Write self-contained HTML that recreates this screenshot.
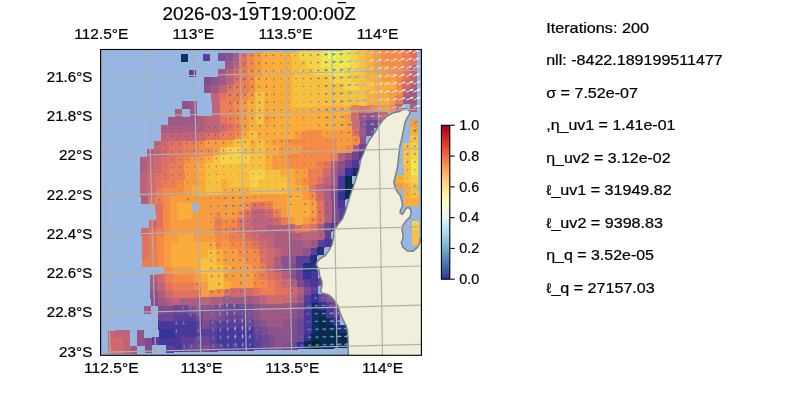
<!DOCTYPE html>
<html lang="en"><head><meta charset="utf-8"><title>plot</title>
<style>html,body{margin:0;padding:0;background:#fff}svg{display:block}text{font-family:"Liberation Sans",sans-serif;fill:#000;stroke:#000;stroke-width:.22px}</style></head><body>
<svg width="800" height="400" viewBox="0 0 800 400">
<defs><clipPath id="ax"><rect x="100.60" y="49.50" width="320.80" height="305.80"/></clipPath>
<linearGradient id="cb" x1="0" y1="0" x2="0" y2="1"><stop offset="0.0000" stop-color="#a50026"/><stop offset="0.0312" stop-color="#b30d26"/><stop offset="0.0625" stop-color="#c21c27"/><stop offset="0.0938" stop-color="#d22b27"/><stop offset="0.1250" stop-color="#dd3d2d"/><stop offset="0.1562" stop-color="#e65036"/><stop offset="0.1875" stop-color="#ef633f"/><stop offset="0.2188" stop-color="#f57748"/><stop offset="0.2500" stop-color="#f88c51"/><stop offset="0.2812" stop-color="#fba05b"/><stop offset="0.3125" stop-color="#fdb366"/><stop offset="0.3438" stop-color="#fdc374"/><stop offset="0.3750" stop-color="#fed283"/><stop offset="0.4062" stop-color="#fee192"/><stop offset="0.4375" stop-color="#feeba1"/><stop offset="0.4688" stop-color="#fff5af"/><stop offset="0.5000" stop-color="#fffebe"/><stop offset="0.5312" stop-color="#f6fbd0"/><stop offset="0.5625" stop-color="#ecf8e2"/><stop offset="0.5938" stop-color="#e2f4f4"/><stop offset="0.6250" stop-color="#d4edf4"/><stop offset="0.6562" stop-color="#c3e5f0"/><stop offset="0.6875" stop-color="#b2ddeb"/><stop offset="0.7188" stop-color="#a1d1e5"/><stop offset="0.7500" stop-color="#90c3dd"/><stop offset="0.7812" stop-color="#7fb6d6"/><stop offset="0.8125" stop-color="#6ea6ce"/><stop offset="0.8438" stop-color="#6095c4"/><stop offset="0.8750" stop-color="#5183bb"/><stop offset="0.9062" stop-color="#4471b2"/><stop offset="0.9375" stop-color="#3e5ea8"/><stop offset="0.9688" stop-color="#374a9f"/><stop offset="1.0000" stop-color="#313695"/></linearGradient></defs>
<rect width="800" height="400" fill="#fff"/>
<g clip-path="url(#ax)">
<rect x="100" y="49" width="322" height="307" fill="#97b6e1"/>
<g shape-rendering="crispEdges"><path fill="#0d3064" d="M181 54H188.4V61.8H181ZM352.2 167.7H359.6V175.6H352.2ZM310.8 302H318.7V310.5H310.8ZM310.9 309.8H318.9V318.3H310.9ZM318.2 309.6H326.2V318.1H318.2ZM311.1 317.6H319V326.2H311.1ZM325.6 317.3H333.6V325.8H325.6ZM311.2 325.5H319.2V334H311.2ZM333 324.9H341V333.4H333Z"/>
<path fill="#5d3e99" d="M203.1 53.5H210.4V61.3H203.1ZM188.7 69.5H196.1V77.4H188.7ZM338.3 207.2H345.6V215.8H338.3ZM338.4 215.1H345.7V222.9H338.4ZM324.1 231.1H331.4V239.6H324.1ZM316.9 239.1H324.9V247.6H316.9ZM309.8 247.1H317.8V255.6H309.8ZM295.3 255.3H303.3V263.8H295.3ZM302.6 255.1H310.6V263.7H302.6ZM295.5 263.1H303.5V271.7H295.5ZM303 278.6H311V287.2H303ZM310.5 286.3H317.8V294.8H310.5ZM303.3 294.3H311.3V302.8H303.3ZM325.3 301.6H333.3V310.1H325.3ZM172.8 313.2H180.7V321.8H172.8ZM180 313H188V321.6H180ZM187.3 312.9H195.3V321.4H187.3ZM194.8 320.5H202.7V329.1H194.8ZM216.6 320H224.5V328.5H216.6ZM223.8 319.8H231.8V328.3H223.8ZM231.1 319.6H239.1V328.2H231.1ZM238.4 319.4H246.3V328H238.4ZM195 328.4H202.9V336.9H195ZM202.2 328.2H210.2V336.7H202.2ZM209.5 328H217.5V336.5H209.5ZM151.6 337.3H159.5V345.1H151.6ZM180.6 336.6H188.6V345.1H180.6ZM187.9 336.4H195.8V344.9H187.9ZM209.7 335.8H217.6V344.4H209.7ZM253.2 334.7H261.2V343.3H253.2ZM166.3 344.8H174.3V352.6H166.3ZM180.8 344.4H188.8V352.3H180.8ZM217.1 343.5H225.1V351.3H217.1ZM231.6 343.1H239.6V351H231.6ZM253.4 342.6H261.4V350.4H253.4Z"/>
<path fill="#7e4d8f" d="M217.8 53.2H225.9V61H217.8ZM203.6 77H211.7V85.6H203.6ZM337.6 168.1H345.6V176.6H337.6ZM330.7 191.7H338.7V200.3H330.7ZM330.8 199.6H338.8V208.1H330.8ZM331 207.4H339V215.9H331ZM331.1 215.2H339.1V223.8H331.1ZM288.2 263.3H296.2V271.8H288.2ZM295.8 278.8H303.7V287.3H295.8ZM303.2 286.5H311.2V295H303.2ZM150.6 298.1H158.5V305.9H150.6ZM158 305.7H166V314.3H158ZM165.3 305.6H173.3V314.1H165.3ZM187.1 305H195.1V313.6H187.1ZM208.9 304.5H216.9V313H208.9ZM216.2 304.3H224.2V312.8H216.2ZM245.3 303.6H253.3V312.1H245.3ZM296.2 302.3H304.2V310.8H296.2ZM332.6 301.4H339.9V309.9H332.6ZM216.4 312.1H224.4V320.7H216.4ZM245.5 311.4H253.4V320H245.5ZM296.4 310.1H304.3V318.7H296.4ZM202 320.3H210V328.9H202ZM252.9 319.1H260.9V327.6H252.9ZM289.2 318.2H297.2V326.7H289.2ZM260.3 326.7H268.3V335.3H260.3ZM289.4 326H297.4V334.5H289.4ZM144.3 337.5H152.3V346H144.3ZM267.8 334.4H275.7V342.9H267.8ZM289.6 333.8H297.5V342.4H289.6ZM144.5 345.3H151.8V353.2H144.5ZM202.6 343.9H210.6V351.7H202.6ZM267.9 342.2H275.9V350.1H267.9ZM282.4 341.9H290.4V349.7H282.4Z"/>
<path fill="#8e538b" d="M225.2 53H233.2V61.6H225.2ZM211 76.9H219V85.4H211ZM203.8 84.9H211.9V92.7H203.8ZM182.1 101.1H190.2V108.9H182.1ZM366 112.6H374.1V121.1H366ZM358.8 120.6H366.9V129.1H358.8ZM359.1 136.2H366.4V144.8H359.1ZM344.7 152.2H352.7V160.8H344.7ZM337.5 160.2H345.5V168.8H337.5ZM330.6 183.9H338.6V192.4H330.6ZM302.5 247.3H310.5V255.8H302.5ZM280.7 255.7H288.7V264.2H280.7ZM288 255.5H296V264H288ZM280.9 263.5H288.9V272H280.9ZM288.3 271.1H296.3V279.7H288.3ZM150.4 290.2H158.3V298.8H150.4ZM325.2 293.8H332.5V302.3H325.2ZM194.4 304.8H202.4V313.4H194.4ZM201.7 304.7H209.6V313.2H201.7ZM252.6 303.4H260.5V311.9H252.6ZM288.9 302.5H296.9V311H288.9ZM201.9 312.5H209.8V321H201.9ZM209.1 312.3H217.1V320.9H209.1ZM252.7 311.2H260.7V319.8H252.7ZM289.1 310.3H297.1V318.9H289.1ZM260.2 318.9H268.1V327.4H260.2ZM282 318.3H289.9V326.9H282ZM136.9 329.8H144.1V338.4H136.9ZM267.6 326.5H275.6V335.1H267.6ZM274.9 326.4H282.8V334.9H274.9ZM282.1 326.2H290.1V334.7H282.1ZM137.1 337.7H145V345.5H137.1ZM275 334.2H283V342.7H275ZM282.3 334H290.3V342.6H282.3ZM275.2 342H283.1V349.9H275.2Z"/>
<path fill="#b05e80" d="M232.5 52.9H240.6V61.4H232.5ZM409.7 80.3H417V88.8H409.7ZM402.4 88.3H410.5V96.8H402.4ZM175 109.1H182.3V117.6H175ZM410 103.7H417.3V111.6H410ZM197.2 116.4H205.2V125H197.2ZM160.7 125.1H168.8V133.6H160.7ZM168.1 124.9H176.1V133.5H168.1ZM175.4 124.8H183.4V133.3H175.4ZM182.7 124.6H190.8V133.1H182.7ZM190.1 124.4H198.1V133H190.1ZM197.4 124.3H205.4V132.8H197.4ZM146.7 149H154.7V157.5H146.7ZM351.9 144.2H359.9V152.8H351.9ZM139.5 157H147.6V165.5H139.5ZM337.3 152.4H345.4V160.9H337.3ZM139.7 164.8H147.8V173.4H139.7ZM330.1 160.4H338.2V168.9H330.1ZM323.2 184.1H331.3V192.6H323.2ZM140.6 196.2H148.6V204.1H140.6ZM323.4 191.9H331.4V200.5H323.4ZM323.5 199.8H331.5V208.3H323.5ZM323.7 207.6H331.7V216.1H323.7ZM323.8 215.4H331.8V224H323.8ZM265.5 224.7H273.5V233.2H265.5ZM272.8 224.5H280.8V233H272.8ZM280.1 224.3H288.1V232.8H280.1ZM316.6 223.4H324.6V232H316.6ZM273 232.3H281V240.9H273ZM280.3 232.1H288.3V240.7H280.3ZM287.6 232H295.6V240.5H287.6ZM294.9 231.8H302.9V240.3H294.9ZM316.8 231.3H324.8V239.8H316.8ZM273.1 240.2H281.1V248.7H273.1ZM280.4 240H288.4V248.5H280.4ZM302.3 239.5H310.3V248H302.3ZM280.6 247.8H288.6V256.4H280.6ZM273.4 255.8H281.4V264.4H273.4ZM273.6 263.7H281.6V272.2H273.6ZM149.9 274.5H157.9V283.1H149.9ZM281 271.3H289V279.9H281ZM288.5 279H296.5V287.5H288.5ZM157.6 290H165.6V298.6H157.6ZM295.9 286.6H303.9V295.2H295.9ZM165.1 297.7H173.1V306.3H165.1ZM179.7 297.3H187.6V305.9H179.7ZM186.9 297.2H194.9V305.7H186.9ZM194.2 297H202.2V305.5H194.2ZM208.8 296.6H216.7V305.2H208.8ZM216 296.5H224V305H216ZM252.4 295.6H260.4V304.1H252.4Z"/>
<path fill="#e17161" d="M239.9 52.7H248V61.2H239.9ZM409.3 49H416.6V57.5H409.3ZM240.1 60.5H248.1V69.1H240.1ZM409.4 56.8H416.7V65.3H409.4ZM232.9 68.5H240.9V77.1H232.9ZM402.1 64.8H410.2V73.3H402.1ZM233 76.4H241.1V84.9H233ZM402.2 72.6H410.3V81.1H402.2ZM225.9 84.4H233.9V92.9H225.9ZM218.7 92.4H226.7V100.9H218.7ZM358.6 104.9H366.6V113.4H358.6ZM219.2 115.9H227.3V124.5H219.2ZM226.7 123.6H234.8V132.1H226.7ZM204.9 131.9H212.9V140.5H204.9ZM212.2 131.8H220.3V140.3H212.2ZM351.6 128.6H359.6V137.1H351.6ZM168.4 140.6H176.5V149.2H168.4ZM175.8 140.5H183.8V149H175.8ZM168.6 148.5H176.7V157H168.6ZM176 148.3H184V156.8H176ZM161.5 156.5H169.5V165H161.5ZM168.8 156.3H176.9V164.9H168.8ZM161.7 164.3H169.7V172.9H161.7ZM322.8 160.6H330.8V169.1H322.8ZM154.6 172.3H162.6V180.9H154.6ZM161.9 172.2H169.9V180.7H161.9ZM154.8 180.2H162.8V188.7H154.8ZM315.8 176.4H323.8V185H315.8ZM308.6 184.4H316.6V193H308.6ZM147.9 196.1H155.9V203.9H147.9ZM155.4 203.7H163.4V212.3H155.4ZM250.4 201.5H258.4V210H250.4ZM257.7 201.3H265.7V209.8H257.7ZM316.2 199.9H324.2V208.5H316.2ZM155.6 211.6H163.6V220.1H155.6ZM243.3 209.5H251.3V218H243.3ZM316.3 207.8H324.4V216.3H316.3ZM155.8 219.4H163.8V228H155.8ZM236.1 217.5H244.1V226H236.1ZM316.5 215.6H324.5V224.1H316.5ZM148.7 227.4H156.7V236H148.7ZM236.3 225.3H244.3V233.9H236.3ZM294.7 224H302.7V232.5H294.7ZM309.3 223.6H317.3V232.1H309.3ZM141.6 235.5H149.6V244H141.6ZM243.8 233H251.8V241.6H243.8ZM141.8 243.3H149.8V251.9H141.8ZM251.2 240.7H259.2V249.2H251.2ZM142 251.2H150V259.7H142ZM258.7 248.3H266.7V256.9H258.7ZM258.9 256.2H266.9V264.7H258.9ZM266.5 271.7H274.5V280.2H266.5ZM164.7 282H172.7V290.6H164.7ZM273.9 279.3H281.9V287.9H273.9ZM172.2 289.7H180.2V298.2H172.2ZM179.5 289.5H187.4V298H179.5ZM186.7 289.3H194.7V297.9H186.7ZM194 289.1H202V297.7H194ZM223.1 288.4H231.1V297H223.1ZM252.2 287.7H260.2V296.3H252.2ZM274.1 287.2H282.1V295.7H274.1ZM281.4 287H289.3V295.5H281.4Z"/>
<path fill="#f68b45" d="M247.3 52.5H255.3V61.1H247.3ZM379.8 49.6H387.9V58.1H379.8ZM387.2 49.4H395.2V58H387.2ZM394.5 49.3H402.6V57.8H394.5ZM247.4 60.4H255.5V68.9H247.4ZM379.9 57.4H388V66H379.9ZM387.3 57.3H395.3V65.8H387.3ZM394.6 57.1H402.7V65.6H394.6ZM247.6 68.2H255.6V76.7H247.6ZM387.4 65.1H395.4V73.6H387.4ZM394.7 64.9H402.8V73.5H394.7ZM247.8 76H255.8V84.6H247.8ZM394.9 72.8H402.9V81.3H394.9ZM247.9 83.9H256V92.4H247.9ZM395 80.6H403V89.1H395ZM240.7 91.9H248.8V100.4H240.7ZM395.1 88.4H403.1V97H395.1ZM233.6 99.9H241.6V108.4H233.6ZM233.7 107.7H241.8V116.3H233.7ZM373.3 104.6H381.3V113.1H373.3ZM388 104.2H396V112.1H388ZM233.9 115.6H241.9V124.1H233.9ZM234.3 131.3H242.3V139.8H234.3ZM300.3 129.8H308.3V138.3H300.3ZM307.6 129.6H315.6V138.1H307.6ZM314.9 129.4H323V137.9H314.9ZM197.8 139.9H205.8V148.5H197.8ZM285.7 137.9H293.8V146.5H285.7ZM293.1 137.8H301.1V146.3H293.1ZM300.4 137.6H308.4V146.1H300.4ZM307.7 137.4H315.8V146H307.7ZM315.1 137.2H323.1V145.8H315.1ZM322.4 137.1H330.4V145.6H322.4ZM329.7 136.9H337.8V145.4H329.7ZM351.7 136.4H359.8V144.9H351.7ZM198 147.8H206V156.3H198ZM205.3 147.6H213.3V156.2H205.3ZM300.6 145.4H308.6V154H300.6ZM307.9 145.3H315.9V153.8H307.9ZM315.2 145.1H323.2V153.6H315.2ZM322.5 144.9H330.6V153.4H322.5ZM329.9 144.7H337.9V153.3H329.9ZM344.5 144.4H352.6V152.9H344.5ZM183.5 156H191.5V164.5H183.5ZM286 153.6H294.1V162.1H286ZM293.4 153.4H301.4V162H293.4ZM300.7 153.3H308.7V161.8H300.7ZM308 153.1H316.1V161.6H308ZM315.4 152.9H323.4V161.5H315.4ZM322.7 152.7H330.7V161.3H322.7ZM286.2 161.4H294.2V170H286.2ZM293.5 161.3H301.5V169.8H293.5ZM300.8 161.1H308.9V169.6H300.8ZM308.2 160.9H316.2V169.5H308.2ZM176.7 179.7H184.8V188.2H176.7ZM301.1 176.8H309.2V185.3H301.1ZM162.3 187.9H170.3V196.4H162.3ZM169.6 187.7H177.6V196.2H169.6ZM176.9 187.5H185V196.1H176.9ZM162.5 195.7H170.5V204.3H162.5ZM308.7 192.3H316.8V200.8H308.7ZM162.7 203.6H170.7V212.1H162.7ZM243.1 201.7H251.1V210.2H243.1ZM162.9 211.4H170.9V219.9H162.9ZM214.1 210.2H222.1V218.7H214.1ZM236 209.7H244V218.2H236ZM163.1 219.2H171.1V227.8H163.1ZM221.5 217.9H229.5V226.4H221.5ZM228.8 217.7H236.8V226.2H228.8ZM309.2 215.8H317.2V224.3H309.2ZM163.3 227.1H171.3V235.6H163.3ZM221.7 225.7H229.7V234.2H221.7ZM156.2 235.1H164.2V243.7H156.2ZM214.6 233.7H222.6V242.3H214.6ZM221.9 233.5H229.9V242.1H221.9ZM156.4 243H164.4V251.5H156.4ZM214.8 241.6H222.8V250.1H214.8ZM229.4 241.2H237.4V249.7H229.4ZM236.7 241H244.7V249.6H236.7ZM156.6 250.8H164.6V259.4H156.6ZM236.8 248.9H244.8V257.4H236.8ZM244.1 248.7H252.1V257.2H244.1ZM251.4 248.5H259.4V257.1H251.4ZM156.8 258.7H164.8V266.5H156.8ZM244.3 256.5H252.3V265.1H244.3ZM251.6 256.4H259.6V264.9H251.6ZM164.3 266.3H172.3V274.9H164.3ZM251.7 264.2H259.7V272.7H251.7ZM171.8 274H179.8V282.5H171.8ZM179.1 273.8H187.1V282.4H179.1ZM186.4 273.6H194.3V282.2H186.4ZM251.9 272H259.9V280.6H251.9ZM193.8 281.3H201.8V289.8H193.8ZM252.1 279.9H260.1V288.4H252.1ZM259.4 279.7H267.3V288.2H259.4ZM208.6 288.8H216.6V297.3H208.6ZM215.9 288.6H223.8V297.2H215.9Z"/>
<path fill="#f89c40" d="M254.6 52.4H262.7V60.9H254.6ZM372.4 49.8H380.5V58.3H372.4ZM254.8 60.2H262.8V68.7H254.8ZM372.6 57.6H380.6V66.1H372.6ZM254.9 68H263V76.6H254.9ZM372.7 65.4H380.7V74H372.7ZM380 65.3H388.1V73.8H380ZM380.1 73.1H388.2V81.6H380.1ZM387.5 72.9H395.6V81.5H387.5ZM248.1 91.7H256.1V100.3H248.1ZM387.7 88.6H395.8V97.1H387.7ZM240.9 99.7H249V108.3H240.9ZM387.8 96.4H395.9V104.9H387.8ZM241.1 107.6H249.1V116.1H241.1ZM380.6 104.4H388.7V112.9H380.6ZM241.2 115.4H249.3V124H241.2ZM263.3 114.9H271.3V123.5H263.3ZM344 113.1H352.1V121.6H344ZM241.4 123.3H249.5V131.8H241.4ZM344.1 120.9H352.2V129.4H344.1ZM410.2 119.4H417.5V127.9H410.2ZM292.9 129.9H301V138.5H292.9ZM322.3 129.2H330.3V137.8H322.3ZM329.6 129.1H337.6V137.6H329.6ZM336.9 128.9H345V137.4H336.9ZM344.3 128.7H352.3V137.3H344.3ZM205.1 139.8H213.1V148.3H205.1ZM212.4 139.6H220.5V148.2H212.4ZM219.8 139.4H227.8V148H219.8ZM271.1 138.3H279.1V146.8H271.1ZM278.4 138.1H286.4V146.6H278.4ZM337.1 136.7H345.1V145.3H337.1ZM344.4 136.6H352.4V145.1H344.4ZM212.6 147.5H220.6V156H212.6ZM278.6 145.9H286.6V154.5H278.6ZM285.9 145.8H293.9V154.3H285.9ZM293.2 145.6H301.3V154.1H293.2ZM337.2 144.6H345.2V153.1H337.2ZM190.8 155.8H198.8V164.3H190.8ZM198.1 155.6H206.2V164.2H198.1ZM271.4 153.9H279.4V162.5H271.4ZM278.7 153.8H286.7V162.3H278.7ZM183.7 163.8H191.7V172.4H183.7ZM191 163.6H199V172.2H191ZM271.6 161.8H279.6V170.3H271.6ZM278.9 161.6H286.9V170.1H278.9ZM183.9 171.7H191.9V180.2H183.9ZM191.2 171.5H199.2V180H191.2ZM293.7 169.1H301.7V177.6H293.7ZM301 168.9H309V177.5H301ZM184.1 179.5H192.1V188H184.1ZM191.4 179.3H199.4V187.9H191.4ZM293.8 176.9H301.8V185.5H293.8ZM184.3 187.3H192.3V195.9H184.3ZM301.3 184.6H309.3V193.1H301.3ZM396.4 182.4H404.4V190.2H396.4ZM169.8 195.5H177.8V204.1H169.8ZM177.1 195.4H185.1V203.9H177.1ZM184.4 195.2H192.5V203.7H184.4ZM191.8 195H199.8V202.9H191.8ZM199.1 194.8H207.1V203.4H199.1ZM206.4 194.7H214.4V203.2H206.4ZM213.7 194.5H221.7V203H213.7ZM221 194.3H229V202.9H221ZM228.3 194.2H236.3V202.7H228.3ZM235.6 194H243.6V202.5H235.6ZM242.9 193.8H250.9V202.4H242.9ZM250.2 193.6H258.3V202.2H250.2ZM257.6 193.5H265.6V202H257.6ZM264.9 193.3H272.9V201.8H264.9ZM272.2 193.1H280.2V201.7H272.2ZM279.5 193H287.5V201.5H279.5ZM301.4 192.4H309.4V201H301.4ZM170 203.4H178V211.9H170ZM199.3 202.7H207.3V211.2H199.3ZM206.6 202.5H214.6V211.1H206.6ZM213.9 202.3H221.9V210.9H213.9ZM221.2 202.2H229.2V210.7H221.2ZM228.5 202H236.5V210.5H228.5ZM235.8 201.8H243.8V210.4H235.8ZM272.3 201H280.4V209.5H272.3ZM279.7 200.8H287.7V209.3H279.7ZM308.9 200.1H316.9V208.6H308.9ZM170.2 211.2H178.2V219.8H170.2ZM192.1 210.7H200.1V219.3H192.1ZM199.4 210.5H207.4V219.1H199.4ZM206.7 210.4H214.8V218.9H206.7ZM221.4 210H229.4V218.6H221.4ZM228.7 209.8H236.7V218.4H228.7ZM279.8 208.6H287.8V217.2H279.8ZM309 207.9H317V216.5H309ZM170.4 219.1H178.4V227.6H170.4ZM177.7 218.9H185.7V227.4H177.7ZM185 218.7H193V227.3H185ZM192.3 218.6H200.3V227.1H192.3ZM199.6 218.4H207.6V226.9H199.6ZM206.9 218.2H214.9V226.7H206.9ZM287.3 216.3H295.3V224.8H287.3ZM301.9 215.9H309.9V224.5H301.9ZM170.6 226.9H178.6V235.5H170.6ZM177.9 226.7H185.9V235.3H177.9ZM185.2 226.6H193.2V235.1H185.2ZM192.5 226.4H200.5V234.9H192.5ZM199.8 226.2H207.8V234.8H199.8ZM207.1 226H215.1V234.6H207.1ZM163.5 234.9H171.5V243.5H163.5ZM170.8 234.8H178.8V243.3H170.8ZM192.7 234.2H200.7V242.8H192.7ZM200 234.1H208V242.6H200ZM207.3 233.9H215.3V242.4H207.3ZM163.7 242.8H171.7V251.3H163.7ZM222.1 241.4H230.1V249.9H222.1ZM163.9 250.6H171.9V259.2H163.9ZM222.2 249.2H230.2V257.8H222.2ZM229.5 249H237.5V257.6H229.5ZM164.1 258.5H172.1V267H164.1ZM222.4 257.1H230.4V265.6H222.4ZM229.7 256.9H237.7V265.4H229.7ZM237 256.7H245V265.3H237ZM171.6 266.1H179.6V274.7H171.6ZM178.9 266H186.9V274.5H178.9ZM186.2 265.8H194.2V274.3H186.2ZM229.9 264.7H237.9V273.3H229.9ZM237.2 264.6H245.2V273.1H237.2ZM244.5 264.4H252.4V272.9H244.5ZM193.6 273.5H201.6V282H193.6ZM222.8 272.7H230.8V281.3H222.8ZM230.1 272.6H238V281.1H230.1ZM237.3 272.4H245.3V280.9H237.3ZM244.6 272.2H252.6V280.8H244.6ZM201.1 281.1H209.1V289.7H201.1ZM230.2 280.4H238.2V289H230.2ZM237.5 280.2H245.5V288.8H237.5ZM244.8 280.1H252.8V288.6H244.8ZM201.3 289H209.3V297.5H201.3Z"/>
<path fill="#fbad3c" d="M262 52.2H270V60.7H262ZM269.3 52H277.4V60.6H269.3ZM276.7 51.9H284.8V60.4H276.7ZM284.1 51.7H292.1V60.3H284.1ZM365.1 49.9H373.1V58.5H365.1ZM262.1 60H270.2V68.6H262.1ZM269.5 59.9H277.6V68.4H269.5ZM276.9 59.7H284.9V68.3H276.9ZM284.2 59.6H292.3V68.1H284.2ZM365.2 57.8H373.3V66.3H365.2ZM262.3 67.9H270.4V76.4H262.3ZM269.7 67.7H277.7V76.3H269.7ZM277 67.6H285.1V76.1H277ZM284.4 67.4H292.4V75.9H284.4ZM365.3 65.6H373.4V74.1H365.3ZM255.1 75.9H263.2V84.4H255.1ZM262.5 75.7H270.5V84.3H262.5ZM269.8 75.6H277.9V84.1H269.8ZM277.2 75.4H285.2V83.9H277.2ZM284.5 75.2H292.6V83.8H284.5ZM365.4 73.4H373.5V82H365.4ZM372.8 73.3H380.8V81.8H372.8ZM255.3 83.7H263.3V92.3H255.3ZM262.6 83.6H270.7V92.1H262.6ZM270 83.4H278V91.9H270ZM277.3 83.2H285.4V91.8H277.3ZM284.7 83.1H292.7V91.6H284.7ZM372.9 81.1H381V89.6H372.9ZM380.3 80.9H388.3V89.5H380.3ZM387.6 80.8H395.7V89.3H387.6ZM262.8 91.4H270.8V99.9H262.8ZM270.1 91.2H278.2V99.8H270.1ZM277.5 91.1H285.5V99.6H277.5ZM284.8 90.9H292.9V99.4H284.8ZM365.7 89.1H373.7V97.6H365.7ZM373 88.9H381.1V97.4H373ZM380.4 88.8H388.4V97.3H380.4ZM248.3 99.6H256.3V108.1H248.3ZM262.9 99.2H271V107.8H262.9ZM270.3 99.1H278.3V107.6H270.3ZM277.6 98.9H285.7V107.4H277.6ZM285 98.7H293V107.3H285ZM365.8 96.9H373.8V105.4H365.8ZM373.1 96.7H381.2V105.3H373.1ZM380.5 96.6H388.5V105.1H380.5ZM248.4 107.4H256.5V115.9H248.4ZM263.1 107.1H271.1V115.6H263.1ZM270.4 106.9H278.5V115.4H270.4ZM277.8 106.7H285.8V115.3H277.8ZM285.1 106.6H293.2V115.1H285.1ZM292.5 106.4H300.5V114.9H292.5ZM299.8 106.2H307.9V114.8H299.8ZM307.2 106.1H315.2V114.6H307.2ZM314.5 105.9H322.6V114.4H314.5ZM321.9 105.7H329.9V114.3H321.9ZM329.2 105.6H337.2V114.1H329.2ZM336.5 105.4H344.6V113.9H336.5ZM343.9 105.2H351.9V113.8H343.9ZM248.6 115.2H256.6V123.8H248.6ZM270.6 114.7H278.6V123.3H270.6ZM277.9 114.6H286V123.1H277.9ZM285.3 114.4H293.3V122.9H285.3ZM292.6 114.2H300.7V122.8H292.6ZM300 114.1H308V122.6H300ZM307.3 113.9H315.4V122.4H307.3ZM314.7 113.7H322.7V122.3H314.7ZM322 113.6H330V122.1H322ZM329.3 113.4H337.4V121.9H329.3ZM336.7 113.2H344.7V121.8H336.7ZM248.8 123.1H256.8V131.6H248.8ZM256.1 122.9H264.1V131.5H256.1ZM263.4 122.8H271.5V131.3H263.4ZM270.8 122.6H278.8V131.1H270.8ZM278.1 122.4H286.1V131H278.1ZM285.4 122.2H293.5V130.8H285.4ZM292.8 122.1H300.8V130.6H292.8ZM300.1 121.9H308.2V130.5H300.1ZM307.5 121.7H315.5V130.3H307.5ZM314.8 121.6H322.8V130.1H314.8ZM322.1 121.4H330.2V129.9H322.1ZM329.5 121.2H337.5V129.8H329.5ZM336.8 121.1H344.8V129.6H336.8ZM241.6 131.1H249.6V139.6H241.6ZM256.3 130.8H264.3V139.3H256.3ZM263.6 130.6H271.6V139.1H263.6ZM270.9 130.4H279V139H270.9ZM278.3 130.3H286.3V138.8H278.3ZM285.6 130.1H293.6V138.6H285.6ZM410.3 127.2H417.6V135.8H410.3ZM227.1 139.3H235.1V147.8H227.1ZM249.1 138.8H257.1V147.3H249.1ZM263.7 138.4H271.8V147H263.7ZM263.9 146.3H271.9V154.8H263.9ZM271.2 146.1H279.3V154.6H271.2ZM205.5 155.5H213.5V164H205.5ZM264.1 154.1H272.1V162.6H264.1ZM198.3 163.5H206.3V172H198.3ZM264.2 161.9H272.3V170.5H264.2ZM198.5 171.3H206.5V179.9H198.5ZM279 169.4H287.1V178H279ZM286.4 169.3H294.4V177.8H286.4ZM198.7 179.2H206.7V187.7H198.7ZM220.6 178.6H228.7V187.2H220.6ZM286.5 177.1H294.5V185.6H286.5ZM396.3 174.5H404.3V183.1H396.3ZM191.6 187.2H199.6V195.7H191.6ZM198.9 187H206.9V195.5H198.9ZM220.8 186.5H228.8V195H220.8ZM228.1 186.3H236.2V194.9H228.1ZM235.5 186.1H243.5V194.7H235.5ZM242.8 186H250.8V194.5H242.8ZM286.7 184.9H294.7V193.5H286.7ZM294 184.8H302V193.3H294ZM403.7 182.2H411.7V190.7H403.7ZM286.8 192.8H294.8V201.3H286.8ZM294.1 192.6H302.1V201.1H294.1ZM403.8 190H411.8V198.6H403.8ZM177.3 203.2H185.3V211.8H177.3ZM184.6 203H191.9V211.6H184.6ZM287 200.6H295V209.2H287ZM294.3 200.4H302.3V209H294.3ZM301.6 200.3H309.6V208.8H301.6ZM403.9 197.9H411.9V205.7H403.9ZM411.2 197.7H418.6V205.5H411.2ZM177.5 211.1H185.5V219.6H177.5ZM184.8 210.9H192.8V219.4H184.8ZM287.1 208.5H295.1V217H287.1ZM294.4 208.3H302.4V216.8H294.4ZM301.7 208.1H309.7V216.6H301.7ZM294.6 216.1H302.6V224.7H294.6ZM178.1 234.6H186.1V243.1H178.1ZM185.4 234.4H193.4V243H185.4ZM171 242.6H179V251.2H171ZM178.3 242.4H186.3V251H178.3ZM185.6 242.3H193.6V250.8H185.6ZM192.9 242.1H200.9V250.6H192.9ZM200.2 241.9H208.2V250.5H200.2ZM207.5 241.7H215.5V250.3H207.5ZM171.2 250.5H179.2V259H171.2ZM178.5 250.3H186.5V258.8H178.5ZM185.8 250.1H193.8V258.6H185.8ZM193.1 249.9H201.1V258.5H193.1ZM200.4 249.8H208.4V258.3H200.4ZM215 249.4H222.9V257.9H215ZM171.4 258.3H179.4V266.8H171.4ZM178.7 258.1H186.7V266.7H178.7ZM186 257.9H194V266.5H186ZM193.3 257.8H201.3V266.3H193.3ZM215.1 257.2H223.1V265.8H215.1ZM193.5 265.6H201.4V274.2H193.5ZM222.6 264.9H230.6V273.4H222.6ZM200.9 273.3H208.9V281.8H200.9ZM223 280.6H230.9V289.1H223Z"/>
<path fill="#f8c041" d="M291.4 51.6H299.5V60.1H291.4ZM357.7 50.1H365.8V58.6H357.7ZM291.6 59.4H299.6V67.9H291.6ZM298.9 59.2H307V67.8H298.9ZM357.8 57.9H365.9V66.5H357.8ZM291.7 67.2H299.8V75.8H291.7ZM299.1 67.1H307.1V75.6H299.1ZM306.4 66.9H314.5V75.4H306.4ZM358 65.8H366V74.3H358ZM291.9 75.1H299.9V83.6H291.9ZM299.2 74.9H307.3V83.4H299.2ZM306.6 74.7H314.6V83.3H306.6ZM313.9 74.6H322V83.1H313.9ZM321.3 74.4H329.4V82.9H321.3ZM350.7 73.7H358.8V82.3H350.7ZM358.1 73.6H366.1V82.1H358.1ZM292 82.9H300.1V91.4H292ZM299.4 82.7H307.4V91.3H299.4ZM306.7 82.6H314.8V91.1H306.7ZM314.1 82.4H322.1V90.9H314.1ZM321.4 82.2H329.5V90.8H321.4ZM328.8 82.1H336.8V90.6H328.8ZM336.1 81.9H344.2V90.4H336.1ZM358.2 81.4H366.3V89.9H358.2ZM365.6 81.3H373.6V89.8H365.6ZM255.4 91.6H263.5V100.1H255.4ZM292.2 90.7H300.2V99.3H292.2ZM299.5 90.6H307.6V99.1H299.5ZM306.9 90.4H314.9V98.9H306.9ZM314.2 90.2H322.3V98.8H314.2ZM321.6 90.1H329.6V98.6H321.6ZM328.9 89.9H337V98.4H328.9ZM336.3 89.7H344.3V98.3H336.3ZM343.6 89.6H351.7V98.1H343.6ZM351 89.4H359V97.9H351ZM358.3 89.2H366.4V97.8H358.3ZM255.6 99.4H263.6V107.9H255.6ZM292.3 98.6H300.4V107.1H292.3ZM299.7 98.4H307.7V106.9H299.7ZM307 98.2H315.1V106.8H307ZM314.4 98.1H322.4V106.6H314.4ZM321.7 97.9H329.8V106.4H321.7ZM329.1 97.7H337.1V106.3H329.1ZM336.4 97.6H344.5V106.1H336.4ZM343.8 97.4H351.8V105.9H343.8ZM351.1 97.2H359.1V105.8H351.1ZM358.4 97.1H366.5V105.6H358.4ZM255.8 107.2H263.8V115.8H255.8ZM255.9 115.1H264V123.6H255.9ZM248.9 130.9H257V139.5H248.9ZM234.4 139.1H242.5V147.6H234.4ZM241.8 138.9H249.8V147.5H241.8ZM256.4 138.6H264.4V147.1H256.4ZM410.4 135.1H417.7V143.6H410.4ZM219.9 147.3H228V155.8H219.9ZM241.9 146.8H250V155.3H241.9ZM249.3 146.6H257.3V155.1H249.3ZM256.6 146.4H264.6V155H256.6ZM403.2 143.1H411.2V151.6H403.2ZM212.8 155.3H220.8V163.8H212.8ZM249.4 154.4H257.4V163H249.4ZM256.7 154.3H264.8V162.8H256.7ZM403.3 150.9H411.3V159.4H403.3ZM205.6 163.3H213.7V171.8H205.6ZM213 163.1H221V171.7H213ZM220.3 163H228.3V171.5H220.3ZM227.6 162.8H235.6V171.3H227.6ZM234.9 162.6H243V171.2H234.9ZM242.3 162.5H250.3V171H242.3ZM249.6 162.3H257.6V170.8H249.6ZM256.9 162.1H264.9V170.7H256.9ZM403.4 158.7H411.4V167.2H403.4ZM205.8 171.1H213.8V179.7H205.8ZM213.1 171H221.2V179.5H213.1ZM220.5 170.8H228.5V179.3H220.5ZM227.8 170.6H235.8V179.2H227.8ZM235.1 170.5H243.1V179H235.1ZM242.4 170.3H250.4V178.8H242.4ZM264.4 169.8H272.4V178.3H264.4ZM271.7 169.6H279.7V178.2H271.7ZM403.5 166.5H411.5V175.1H403.5ZM206 179H214V187.5H206ZM213.3 178.8H221.3V187.4H213.3ZM228 178.5H236V187H228ZM235.3 178.3H243.3V186.8H235.3ZM242.6 178.1H250.6V186.7H242.6ZM257.2 177.8H265.3V186.3H257.2ZM264.6 177.6H272.6V186.2H264.6ZM271.9 177.5H279.9V186H271.9ZM279.2 177.3H287.2V185.8H279.2ZM403.6 174.4H411.6V182.9H403.6ZM206.2 186.8H214.2V195.4H206.2ZM213.5 186.7H221.5V195.2H213.5ZM250.1 185.8H258.1V194.3H250.1ZM257.4 185.6H265.4V194.2H257.4ZM264.7 185.5H272.7V194H264.7ZM272 185.3H280V193.8H272ZM279.3 185.1H287.4V193.7H279.3ZM411 182H418.4V190.6H411ZM411.1 189.9H418.5V198.4H411.1ZM411.7 229H419V237.5H411.7ZM411.8 236.8H419.1V244.6H411.8ZM207.7 249.6H215.7V258.1H207.7ZM200.6 257.6H208.5V266.1H200.6ZM207.8 257.4H215.8V266H207.8ZM200.7 265.4H208.7V274H200.7ZM208 265.3H216V273.8H208ZM215.3 265.1H223.3V273.6H215.3ZM208.2 273.1H216.2V281.6H208.2ZM215.5 272.9H223.5V281.5H215.5ZM208.4 280.9H216.4V289.5H208.4ZM215.7 280.8H223.7V289.3H215.7Z"/>
<path fill="#f6d346" d="M298.8 51.4H306.9V59.9H298.8ZM306.2 51.2H314.2V59.8H306.2ZM313.5 51.1H321.6V59.6H313.5ZM350.3 50.3H358.4V58.8H350.3ZM306.3 59.1H314.4V67.6H306.3ZM313.7 58.9H321.7V67.4H313.7ZM350.5 58.1H358.5V66.6H350.5ZM313.8 66.7H321.9V75.3H313.8ZM321.2 66.6H329.2V75.1H321.2ZM343.2 66.1H351.3V74.6H343.2ZM350.6 65.9H358.7V74.4H350.6ZM328.7 74.2H336.7V82.8H328.7ZM336 74.1H344.1V82.6H336ZM343.4 73.9H351.4V82.4H343.4ZM343.5 81.7H351.5V90.3H343.5ZM350.8 81.6H358.9V90.1H350.8ZM227.3 147.1H235.3V155.7H227.3ZM234.6 146.9H242.6V155.5H234.6ZM410.5 142.9H417.8V151.4H410.5ZM220.1 155.1H228.1V163.7H220.1ZM227.4 155H235.5V163.5H227.4ZM234.8 154.8H242.8V163.3H234.8ZM242.1 154.6H250.1V163.2H242.1ZM410.6 150.7H417.9V159.2H410.6ZM249.7 170.1H257.8V178.7H249.7ZM257.1 170H265.1V178.5H257.1ZM249.9 178H257.9V186.5H249.9ZM410.9 174.2H418.3V182.7H410.9ZM411.6 221.2H418.9V229.7H411.6Z"/>
<path fill="#eee650" d="M320.9 50.9H328.9V59.4H320.9ZM335.6 50.6H343.7V59.1H335.6ZM343 50.4H351V58.9H343ZM321 58.7H329.1V67.3H321ZM328.4 58.6H336.4V67.1H328.4ZM335.7 58.4H343.8V66.9H335.7ZM343.1 58.2H351.2V66.8H343.1ZM328.5 66.4H336.6V74.9H328.5ZM335.9 66.2H343.9V74.8H335.9ZM410.7 158.5H418V167.1H410.7ZM410.8 166.4H418.2V174.9H410.8Z"/>
<path fill="#e7fa5a" d="M328.2 50.7H336.3V59.3H328.2Z"/>
<path fill="#ec7e53" d="M401.9 49.1H410V57.6H401.9ZM402 56.9H410.1V65.5H402ZM240.2 68.4H248.3V76.9H240.2ZM240.4 76.2H248.5V84.8H240.4ZM233.2 84.2H241.3V92.8H233.2ZM240.6 84.1H248.6V92.6H240.6ZM226 92.2H234.1V100.8H226ZM233.4 92.1H241.4V100.6H233.4ZM218.9 100.2H226.9V108.8H218.9ZM226.2 100.1H234.3V108.6H226.2ZM395.2 96.3H403.2V104.8H395.2ZM219.1 108.1H227.1V116.6H219.1ZM226.4 107.9H234.4V116.4H226.4ZM351.2 105.1H359.3V113.6H351.2ZM365.9 104.7H374V113.3H365.9ZM226.6 115.7H234.6V124.3H226.6ZM234.1 123.4H242.1V132H234.1ZM219.6 131.6H227.6V140.1H219.6ZM226.9 131.4H235V140H226.9ZM183.1 140.3H191.1V148.8H183.1ZM190.4 140.1H198.5V148.7H190.4ZM183.3 148.1H191.3V156.7H183.3ZM190.6 148H198.7V156.5H190.6ZM176.2 156.1H184.2V164.7H176.2ZM330 152.6H338V161.1H330ZM169 164.2H177.1V172.7H169ZM176.4 164H184.4V172.5H176.4ZM315.5 160.8H323.5V169.3H315.5ZM169.2 172H177.3V180.5H169.2ZM176.6 171.8H184.6V180.4H176.6ZM308.3 168.8H316.3V177.3H308.3ZM315.6 168.6H323.7V177.1H315.6ZM162.1 180H170.1V188.6H162.1ZM169.4 179.8H177.4V188.4H169.4ZM308.5 176.6H316.5V185.1H308.5ZM155 188H163V196.6H155ZM155.2 195.9H163.2V204.4H155.2ZM265 201.1H273V209.7H265ZM272.5 208.8H280.5V217.3H272.5ZM214.2 218H222.2V226.6H214.2ZM280 216.5H288V225H280ZM156 227.3H164V235.8H156ZM214.4 225.9H222.4V234.4H214.4ZM229 225.5H237V234.1H229ZM302 223.8H310V232.3H302ZM148.9 235.3H156.9V243.8H148.9ZM229.2 233.4H237.2V241.9H229.2ZM236.5 233.2H244.5V241.7H236.5ZM149.1 243.1H157.1V251.7H149.1ZM244 240.9H251.9V249.4H244ZM149.3 251H157.3V259.5H149.3ZM142.2 259H150.2V266.9H142.2ZM149.5 258.8H157.5V266.7H149.5ZM259 264H267V272.6H259ZM164.5 274.2H172.5V282.7H164.5ZM259.2 271.9H267.2V280.4H259.2ZM172 281.8H180V290.4H172ZM179.3 281.7H187.2V290.2H179.3ZM186.5 281.5H194.5V290H186.5ZM266.6 279.5H274.6V288.1H266.6ZM259.5 287.5H267.5V296.1H259.5ZM266.8 287.4H274.8V295.9H266.8Z"/>
<path fill="#9e5987" d="M225.3 60.9H233.4V69.4H225.3ZM218.2 68.9H226.2V77.4H218.2ZM218.3 76.7H226.4V85.2H218.3ZM211.2 84.7H219.2V93.3H211.2ZM409.8 88.1H417.1V96.6H409.8ZM189.5 100.9H196.8V109.4H189.5ZM402.5 96.1H410.6V103.9H402.5ZM409.9 95.9H417.2V104.4H409.9ZM189.7 108.7H197V117.3H189.7ZM167.9 117.1H175.9V125.6H167.9ZM175.2 116.9H183.2V125.5H175.2ZM182.5 116.7H190.6V125.3H182.5ZM189.9 116.6H197.9V125.1H189.9ZM358.7 112.7H366.7V121.3H358.7ZM373.4 112.4H381.4V120.9H373.4ZM358.9 128.4H367V136.9H358.9ZM330.3 168.2H338.3V176.8H330.3ZM330.4 176.1H338.4V184.6H330.4ZM287.7 239.8H295.7V248.3H287.7ZM295 239.6H303V248.2H295ZM309.6 239.3H317.6V247.8H309.6ZM287.9 247.6H295.9V256.2H287.9ZM295.2 247.5H303.2V256H295.2ZM150.1 282.4H158.1V290.9H150.1ZM157.8 297.9H165.8V306.4H157.8ZM223.3 296.3H231.3V304.8H223.3ZM230.6 296.1H238.6V304.6H230.6ZM237.9 295.9H245.8V304.5H237.9ZM245.1 295.7H253.1V304.3H245.1ZM296.1 294.5H304V303H296.1ZM143.5 306.1H150.8V313.9H143.5ZM259.8 303.2H267.8V311.8H259.8ZM267.1 303H275.1V311.6H267.1ZM274.4 302.9H282.4V311.4H274.4ZM281.7 302.7H289.6V311.2H281.7ZM260 311.1H268V319.6H260ZM267.3 310.9H275.3V319.4H267.3ZM274.6 310.7H282.5V319.2H274.6ZM281.8 310.5H289.8V319H281.8ZM267.4 318.7H275.4V327.2H267.4ZM274.7 318.5H282.7V327.1H274.7ZM130 345.7H137.3V353.5H130Z"/>
<path fill="#c16479" d="M232.7 60.7H240.8V69.2H232.7ZM225.5 68.7H233.6V77.2H225.5ZM409.5 64.6H416.8V73.1H409.5ZM225.7 76.5H233.7V85.1H225.7ZM409.6 72.4H416.9V81H409.6ZM218.5 84.5H226.6V93.1H218.5ZM211.3 92.6H219.4V101.1H211.3ZM211.5 100.4H219.6V108.9H211.5ZM211.7 108.2H219.8V116.8H211.7ZM395.3 104.1H402.6V111.9H395.3ZM204.5 116.2H212.6V124.8H204.5ZM211.9 116.1H219.9V124.6H211.9ZM204.7 124.1H212.8V132.6H204.7ZM212.1 123.9H220.1V132.5H212.1ZM160.9 132.9H168.9V141.5H160.9ZM168.2 132.8H176.3V141.3H168.2ZM175.6 132.6H183.6V141.2H175.6ZM182.9 132.4H190.9V141H182.9ZM190.2 132.3H198.3V140.8H190.2ZM153.8 141H161.8V149.5H153.8ZM154 148.8H162V157.4H154ZM146.9 156.8H154.9V165.4H146.9ZM147.1 164.7H155.1V173.2H147.1ZM140 172.7H148V181.2H140ZM140.2 180.5H148.2V189.1H140.2ZM323.1 176.3H331.1V184.8H323.1ZM140.4 188.4H148.4V196.9H140.4ZM315.9 184.3H323.9V192.8H315.9ZM250.6 209.3H258.6V217.9H250.6ZM257.9 209.1H265.9V217.7H257.9ZM250.7 217.2H258.8V225.7H250.7ZM258.1 217H266.1V225.5H258.1ZM265.4 216.8H273.4V225.4H265.4ZM250.9 225H258.9V233.5H250.9ZM258.2 224.8H266.2V233.4H258.2ZM287.4 224.1H295.4V232.7H287.4ZM258.4 232.7H266.4V241.2H258.4ZM265.7 232.5H273.7V241H265.7ZM302.2 231.6H310.2V240.2H302.2ZM309.5 231.4H317.5V240H309.5ZM265.8 240.3H273.8V248.9H265.8ZM273.3 248H281.3V256.5H273.3ZM157.4 282.2H165.4V290.7H157.4ZM172.4 297.5H180.4V306.1H172.4ZM201.5 296.8H209.5V305.4H201.5ZM259.7 295.4H267.7V303.9H259.7ZM288.8 294.7H296.8V303.2H288.8ZM107.8 330.5H115.8V339.1H107.8ZM115.1 330.4H123V338.9H115.1ZM122.3 330.2H129.6V338.7H122.3ZM122.5 338H129.8V346.6H122.5ZM122.8 345.9H130.7V353.7H122.8Z"/>
<path fill="#d16a6d" d="M402.3 80.4H410.4V89H402.3ZM351.4 112.9H359.4V121.4H351.4ZM380.7 112.2H388.1V120.1H380.7ZM219.4 123.8H227.4V132.3H219.4ZM351.5 120.7H359.5V129.3H351.5ZM197.6 132.1H205.6V140.6H197.6ZM161.1 140.8H169.1V149.3H161.1ZM161.3 148.6H169.3V157.2H161.3ZM154.2 156.7H162.2V165.2H154.2ZM154.4 164.5H162.4V173H154.4ZM147.3 172.5H155.3V181.1H147.3ZM323 168.4H331V177H323ZM147.5 180.4H155.5V188.9H147.5ZM147.7 188.2H155.7V196.8H147.7ZM316.1 192.1H324.1V200.6H316.1ZM265.2 209H273.2V217.5H265.2ZM148.5 219.6H156.5V228.1H148.5ZM243.4 217.3H251.4V225.9H243.4ZM272.7 216.6H280.7V225.2H272.7ZM141.4 227.6H149.4V236.2H141.4ZM243.6 225.2H251.6V233.7H243.6ZM251.1 232.8H259.1V241.4H251.1ZM258.5 240.5H266.5V249H258.5ZM266 248.2H274V256.7H266ZM266.2 256H274.1V264.5H266.2ZM266.3 263.8H274.3V272.4H266.3ZM157.2 274.3H165.2V282.9H157.2ZM273.8 271.5H281.7V280H273.8ZM281.2 279.2H289.2V287.7H281.2ZM164.9 289.9H172.9V298.4H164.9ZM230.4 288.3H238.4V296.8H230.4ZM237.7 288.1H245.7V296.6H237.7ZM245 287.9H252.9V296.4H245ZM288.6 286.8H296.6V295.4H288.6ZM267 295.2H274.9V303.7H267ZM274.2 295H282.2V303.6H274.2ZM281.5 294.8H289.5V303.4H281.5ZM108 338.4H116V346.9H108ZM115.3 338.2H123.2V346.8H115.3ZM108.3 346.2H116.2V354.1H108.3ZM115.5 346.1H123.5V353.9H115.5Z"/>
<path fill="#6e4694" d="M366.2 120.4H374.2V128.9H366.2ZM373.5 120.2H380.8V128.1H373.5ZM366.3 128.2H373.6V136.1H366.3ZM359.2 144.1H366.5V152.6H359.2ZM352 152.1H360V160.6H352ZM344.8 160.1H352.8V168.6H344.8ZM323.9 223.3H331.9V231.8H323.9ZM295.6 271H303.6V279.5H295.6ZM317.6 278.3H324.9V286.1H317.6ZM317.9 293.9H325.9V302.5H317.9ZM172.6 305.4H180.6V313.9H172.6ZM179.9 305.2H187.8V313.7H179.9ZM223.5 304.1H231.5V312.7H223.5ZM230.8 303.9H238.7V312.5H230.8ZM238 303.8H246V312.3H238ZM158.2 313.6H166.2V322.1H158.2ZM165.5 313.4H173.5V321.9H165.5ZM194.6 312.7H202.6V321.2H194.6ZM223.7 312H231.6V320.5H223.7ZM230.9 311.8H238.9V320.3H230.9ZM238.2 311.6H246.2V320.1H238.2ZM332.7 309.2H340V317.8H332.7ZM209.3 320.2H217.3V328.7H209.3ZM245.6 319.3H253.6V327.8H245.6ZM296.5 318H304.5V326.5H296.5ZM253.1 326.9H261V335.4H253.1ZM296.7 325.8H304.6V334.4H296.7ZM195.1 336.2H203.1V344.7H195.1ZM202.4 336H210.4V344.6H202.4ZM260.5 334.6H268.5V343.1H260.5ZM296.8 333.7H304.8V342.2H296.8ZM188.1 344.2H196V352.1H188.1ZM195.3 344H203.3V351.9H195.3ZM209.9 343.7H217.8V351.5H209.9ZM260.7 342.4H268.6V350.2H260.7ZM289.7 341.7H297.7V349.5H289.7Z"/>
<path fill="#49389a" d="M359.3 151.9H366.6V159.7H359.3ZM352.1 159.9H359.4V168.4H352.1ZM337.7 175.9H345.8V184.4H337.7ZM337.9 183.7H345.9V192.3H337.9ZM338.1 199.4H345.4V207.9H338.1ZM331.2 223.1H338.5V230.9H331.2ZM324.2 238.9H331.5V246.8H324.2ZM310.2 270.6H317.5V279.1H310.2ZM310.3 278.4H318.3V287H310.3ZM303.5 302.1H311.5V310.7H303.5ZM303.6 310H311.6V318.5H303.6ZM325.5 309.4H333.4V318H325.5ZM158.4 321.4H166.4V330H158.4ZM165.7 321.2H173.7V329.8H165.7ZM173 321.1H180.9V329.6H173ZM180.2 320.9H188.2V329.4H180.2ZM187.5 320.7H195.5V329.2H187.5ZM303.8 317.8H311.8V326.3H303.8ZM332.9 317.1H340.1V325.6H332.9ZM173.2 328.9H181.1V337.5H173.2ZM180.4 328.7H188.4V337.3H180.4ZM187.7 328.5H195.7V337.1H187.7ZM216.8 327.8H224.7V336.4H216.8ZM224 327.6H232V336.2H224ZM231.3 327.5H239.2V336H231.3ZM238.5 327.3H246.5V335.8H238.5ZM245.8 327.1H253.8V335.6H245.8ZM303.9 325.6H311.9V334.2H303.9ZM158.8 337.1H166.8V345H158.8ZM166.1 336.9H174.1V345.5H166.1ZM173.4 336.8H181.3V345.3H173.4ZM216.9 335.7H224.9V344.2H216.9ZM224.2 335.5H232.2V344H224.2ZM231.5 335.3H239.4V343.8H231.5ZM238.7 335.1H246.7V343.7H238.7ZM246 334.9H253.9V343.5H246ZM173.6 344.6H181.5V352.4H173.6ZM224.4 343.3H232.3V351.2H224.4ZM238.9 343H246.8V350.8H238.9ZM246.1 342.8H254.1V350.6H246.1Z"/>
<path fill="#35329b" d="M344.9 167.9H352.9V176.4H344.9ZM338 191.6H346V200.1H338ZM302.9 270.8H310.9V279.3H302.9ZM310.6 294.1H318.6V302.7H310.6ZM318 301.8H326V310.3H318ZM158.6 329.3H166.6V337.8H158.6ZM165.9 329.1H173.9V337.6H165.9ZM304.1 333.5H312V342H304.1ZM297 341.5H304.9V349.3H297Z"/>
<path fill="#082a4c" d="M345.1 175.7H352.4V184.3H345.1ZM345.2 183.6H352.5V192.1H345.2ZM345.3 191.4H352.6V199.2H345.3ZM318.3 317.4H326.3V326H318.3ZM318.5 325.3H326.4V333.8H318.5ZM325.7 325.1H333.7V333.6H325.7ZM311.3 333.3H319.3V341.8H311.3ZM318.6 333.1H326.6V341.6H318.6ZM325.9 332.9H333.8V341.5H325.9ZM333.1 332.7H341.1V341.3H333.1ZM340.4 332.6H347.7V341.1H340.4ZM304.2 341.3H312.2V349.1H304.2ZM318.7 340.9H326.7V348.8H318.7ZM326 340.8H334V348.6H326ZM333.3 340.6H341.2V348.4H333.3ZM340.5 340.4H347.8V348.2H340.5Z"/>
<path fill="#213180" d="M317.1 246.9H324.3V254.8H317.1ZM309.9 254.9H317.2V263.5H309.9ZM302.8 263H310.7V271.5H302.8ZM310 262.8H317.3V271.3H310ZM340.3 324.7H347.5V333.3H340.3Z"/>
<path fill="#032333" d="M311.5 341.1H319.4V349H311.5Z"/></g>
<g><path fill="#4272b4" d="M229.1 57.2L229.3 56.9L229.7 57.7L230.9 54.5L228.0 56.2L228.8 56.5L228.6 56.7ZM236.5 57.0L236.7 56.8L237.1 57.5L238.2 54.4L235.4 56.1L236.1 56.3L236.0 56.6ZM243.8 56.8L244.0 56.6L244.4 57.3L245.5 54.2L242.7 55.9L243.5 56.2L243.3 56.4ZM229.3 65.0L229.5 64.8L229.9 65.5L231.2 62.4L228.2 64.0L229.0 64.3L228.8 64.5ZM236.6 64.8L236.8 64.6L237.3 65.3L238.4 62.2L235.5 63.9L236.3 64.2L236.1 64.4ZM244.0 64.7L244.2 64.4L244.6 65.2L245.7 62.0L242.9 63.8L243.7 64.0L243.5 64.2ZM251.4 64.5L251.5 64.2L252.0 64.9L252.9 61.9L250.2 63.7L251.0 63.9L250.8 64.1ZM229.5 72.8L229.7 72.6L230.1 73.3L231.2 70.2L228.3 71.9L229.1 72.2L228.9 72.4ZM236.8 72.7L237.0 72.4L237.4 73.1L238.5 70.0L235.7 71.8L236.5 72.0L236.3 72.2ZM244.2 72.5L244.4 72.3L244.8 72.9L245.7 69.8L243.0 71.6L243.8 71.9L243.6 72.1ZM229.7 80.6L229.8 80.4L230.3 81.0L231.0 77.8L228.4 79.9L229.2 80.0L229.1 80.3ZM237.0 80.5L237.2 80.2L237.6 80.8L238.3 77.7L235.8 79.7L236.6 79.9L236.4 80.1ZM237.2 88.3L237.3 88.0L237.9 88.6L238.3 85.3L235.9 87.7L236.7 87.7L236.6 88.0ZM244.5 88.1L244.7 87.9L245.2 88.4L245.6 85.3L243.3 87.5L244.1 87.6L244.0 87.8ZM325.2 86.5L325.5 86.4L325.3 87.3L328.2 85.7L324.9 85.1L325.4 85.8L325.1 85.8ZM237.4 96.1L237.5 95.8L238.1 96.5L238.4 93.1L236.0 95.5L236.9 95.6L236.8 95.8ZM244.7 96.0L244.8 95.7L245.4 96.3L245.8 93.1L243.5 95.3L244.3 95.4L244.1 95.7ZM325.3 94.3L325.6 94.3L325.4 95.1L328.4 93.6L325.1 92.9L325.5 93.6L325.2 93.7ZM230.2 104.1L230.3 103.8L230.9 104.4L231.1 101.1L228.9 103.6L229.7 103.6L229.6 103.9ZM237.5 103.9L237.6 103.7L238.2 104.2L238.4 101.0L236.2 103.4L237.0 103.4L236.9 103.7ZM325.4 102.2L325.7 102.1L325.5 102.9L328.4 101.4L325.2 100.7L325.6 101.5L325.3 101.5ZM230.4 111.9L230.5 111.7L231.0 112.2L231.1 109.1L229.1 111.4L229.9 111.4L229.8 111.7ZM325.6 110.0L325.9 110.0L325.6 110.8L328.7 109.3L325.4 108.5L325.8 109.3L325.5 109.3ZM333.2 125.5L333.5 125.5L333.2 126.3L336.2 124.9L333.0 124.1L333.4 124.8L333.1 124.8ZM362.8 140.5L363.1 140.4L363.0 141.2L365.6 139.4L362.5 139.1L362.9 139.8L362.7 139.8ZM232.0 198.4L232.3 198.4L232.1 199.1L235.0 197.7L231.8 197.0L232.2 197.7L231.9 197.8ZM224.9 206.4L225.2 206.4L225.0 207.2L227.8 205.8L224.7 205.0L225.1 205.7L224.8 205.8ZM239.5 206.1L239.8 206.0L239.6 206.8L242.5 205.4L239.3 204.7L239.7 205.4L239.4 205.4ZM232.4 214.1L232.6 214.1L232.4 214.8L235.3 213.4L232.2 212.7L232.6 213.4L232.3 213.4ZM254.3 213.6L254.6 213.5L254.5 214.3L257.1 212.4L253.9 212.2L254.4 212.9L254.1 212.9ZM212.5 292.6L212.5 292.3L213.3 292.5L211.5 289.8L211.2 292.9L211.8 292.5L211.9 292.8ZM234.4 292.1L234.3 291.8L235.1 291.9L233.4 289.3L233.0 292.4L233.7 292.0L233.7 292.2ZM314.2 290.5L314.5 290.5L314.3 291.3L317.1 289.8L314.0 289.1L314.4 289.8L314.1 289.9ZM256.7 315.3L256.8 315.0L257.4 315.5L257.3 312.3L255.4 314.8L256.2 314.8L256.1 315.1ZM300.4 330.1L300.7 330.0L300.5 330.8L303.3 329.1L300.1 328.7L300.5 329.4L300.2 329.4Z"/><path fill="#426cae" d="M251.2 56.6L251.4 56.4L251.8 57.0L252.6 54.1L250.1 55.8L250.8 56.0L250.7 56.3ZM258.5 56.4L258.7 56.2L259.1 56.7L259.5 54.1L257.5 55.9L258.2 55.9L258.1 56.2ZM317.3 55.3L317.5 55.2L317.4 55.9L319.9 54.4L317.0 54.0L317.4 54.6L317.1 54.7ZM258.7 64.2L258.8 64.0L259.2 64.5L259.6 61.9L257.7 63.7L258.3 63.8L258.2 64.0ZM317.4 63.1L317.6 63.0L317.5 63.7L319.9 62.3L317.2 61.9L317.5 62.5L317.3 62.5ZM251.5 72.3L251.7 72.1L252.1 72.7L252.9 69.7L250.4 71.6L251.2 71.7L251.0 72.0ZM258.9 72.1L259.0 71.9L259.4 72.4L259.8 69.7L257.8 71.6L258.5 71.6L258.4 71.8ZM317.5 70.9L317.8 70.9L317.7 71.6L320.1 70.1L317.3 69.7L317.7 70.3L317.4 70.4ZM244.4 80.3L244.5 80.0L245.0 80.7L245.5 77.6L243.2 79.6L243.9 79.7L243.8 80.0ZM251.7 80.1L251.8 79.9L252.3 80.4L252.7 77.5L250.6 79.5L251.3 79.6L251.2 79.8ZM259.0 79.9L259.1 79.7L259.6 80.2L259.8 77.5L258.0 79.4L258.6 79.5L258.5 79.7ZM317.7 78.8L317.9 78.7L317.8 79.4L320.2 77.9L317.4 77.6L317.8 78.2L317.6 78.2ZM251.9 87.9L252.0 87.7L252.5 88.2L252.7 85.2L250.7 87.4L251.4 87.4L251.3 87.7ZM259.2 87.7L259.3 87.5L259.8 87.9L259.7 85.2L258.1 87.4L258.8 87.3L258.7 87.6ZM266.6 87.5L266.6 87.3L267.2 87.7L266.8 85.1L265.4 87.3L266.1 87.2L266.0 87.4ZM252.0 95.8L252.2 95.5L252.7 96.1L252.9 93.0L250.8 95.2L251.6 95.3L251.5 95.5ZM259.4 95.5L259.4 95.3L260.0 95.7L259.7 93.0L258.2 95.3L258.9 95.2L258.8 95.4ZM266.7 95.4L266.8 95.1L267.4 95.5L266.9 92.8L265.6 95.2L266.2 95.0L266.2 95.3ZM244.9 103.8L245.0 103.5L245.5 104.0L245.6 101.0L243.6 103.3L244.4 103.3L244.3 103.5ZM252.2 103.6L252.3 103.3L252.9 103.8L252.8 100.9L251.0 103.2L251.7 103.1L251.6 103.4ZM259.5 103.4L259.6 103.1L260.2 103.5L259.8 100.8L258.4 103.1L259.1 103.0L259.0 103.3ZM266.9 103.2L266.9 103.0L267.5 103.3L267.0 100.7L265.7 103.0L266.4 102.9L266.4 103.1ZM237.7 111.7L237.8 111.5L238.4 111.9L238.1 108.9L236.4 111.4L237.2 111.3L237.1 111.6ZM245.0 111.5L245.1 111.3L245.7 111.6L244.9 108.8L243.8 111.4L244.5 111.2L244.5 111.5ZM252.4 111.4L252.4 111.1L253.0 111.4L252.3 108.7L251.2 111.2L251.8 111.0L251.8 111.3ZM259.7 111.2L259.7 110.9L260.3 111.2L259.7 108.7L258.6 111.1L259.2 110.9L259.2 111.1ZM318.2 110.1L318.5 110.1L318.3 110.7L320.7 109.4L318.0 108.9L318.4 109.5L318.1 109.6ZM230.5 119.7L230.6 119.5L231.2 119.9L230.9 117.1L229.3 119.4L230.0 119.3L230.0 119.6ZM237.9 119.5L237.9 119.3L238.5 119.6L237.8 116.8L236.6 119.4L237.3 119.2L237.3 119.5ZM245.2 119.3L245.2 119.0L245.9 119.2L244.6 116.6L243.9 119.4L244.6 119.1L244.6 119.4ZM252.5 119.2L252.5 118.9L253.2 119.1L252.1 116.5L251.3 119.2L252.0 118.9L252.0 119.2ZM259.9 119.0L259.9 118.8L260.5 119.0L259.6 116.5L258.7 119.0L259.3 118.8L259.3 119.0ZM267.2 118.8L267.2 118.6L267.8 118.7L266.6 116.4L266.1 118.9L266.6 118.6L266.7 118.9ZM274.6 118.6L274.5 118.4L275.2 118.5L273.8 116.1L273.4 118.8L274.0 118.5L274.0 118.7ZM318.4 118.0L318.6 117.9L318.5 118.6L321.0 117.3L318.2 116.7L318.5 117.3L318.3 117.4ZM223.3 127.7L223.4 127.5L223.9 127.8L223.4 125.3L222.2 127.6L222.8 127.4L222.8 127.6ZM230.7 127.5L230.7 127.3L231.3 127.6L230.8 125.0L229.5 127.4L230.2 127.2L230.1 127.5ZM238.0 127.3L238.0 127.1L238.7 127.4L237.8 124.7L236.8 127.3L237.5 127.1L237.5 127.3ZM245.4 127.2L245.4 126.9L246.0 127.1L244.9 124.5L244.1 127.3L244.8 126.9L244.8 127.2ZM252.7 127.0L252.7 126.7L253.3 126.9L252.2 124.5L251.5 127.1L252.1 126.8L252.1 127.0ZM325.8 125.6L326.1 125.6L325.9 126.4L328.7 125.0L325.7 124.3L326.0 125.0L325.8 125.0ZM245.5 135.0L245.5 134.7L246.1 134.9L244.8 132.6L244.4 135.2L244.9 134.8L245.0 135.1ZM252.8 134.8L252.8 134.5L253.4 134.6L251.9 132.5L251.7 135.1L252.3 134.7L252.3 134.9ZM348.0 133.0L348.2 132.9L348.0 133.6L350.7 132.5L347.9 131.7L348.2 132.3L347.9 132.4ZM253.0 142.6L252.9 142.4L253.6 142.4L251.9 140.3L251.9 143.0L252.4 142.5L252.5 142.8ZM414.3 139.2L414.5 139.0L414.7 139.7L416.2 137.3L413.5 138.2L414.1 138.6L413.9 138.7ZM407.0 147.2L407.2 147.0L407.5 147.6L408.7 145.3L406.2 146.3L406.8 146.6L406.7 146.8ZM224.7 198.5L225.0 198.5L224.8 199.2L227.3 197.8L224.5 197.3L224.9 197.9L224.6 198.0ZM239.3 198.2L239.6 198.1L239.5 198.8L241.9 197.4L239.1 197.0L239.5 197.6L239.2 197.6ZM246.8 205.9L247.1 205.8L247.0 206.5L249.3 204.8L246.5 204.7L246.9 205.2L246.7 205.3ZM254.2 205.7L254.4 205.6L254.4 206.3L256.7 204.6L253.8 204.5L254.2 205.0L254.0 205.1ZM225.1 214.2L225.3 214.2L225.1 214.9L227.8 213.6L224.9 213.0L225.2 213.6L225.0 213.6ZM239.7 213.9L239.9 213.9L239.8 214.6L242.5 213.1L239.5 212.6L239.8 213.2L239.6 213.3ZM247.0 213.7L247.3 213.6L247.2 214.4L249.6 212.6L246.7 212.5L247.1 213.0L246.8 213.1ZM261.6 213.3L261.9 213.2L261.9 213.9L263.9 212.1L261.2 212.2L261.7 212.7L261.4 212.8ZM225.2 222.1L225.5 222.0L225.3 222.7L227.9 221.4L225.0 220.8L225.4 221.4L225.1 221.5ZM232.5 221.9L232.8 221.9L232.6 222.6L235.4 221.3L232.4 220.6L232.7 221.3L232.5 221.3ZM239.8 221.7L240.1 221.7L240.0 222.4L242.5 220.9L239.6 220.5L240.0 221.1L239.7 221.1ZM247.2 221.5L247.4 221.4L247.4 222.1L249.5 220.4L246.8 220.4L247.2 220.9L247.0 221.0ZM254.5 221.3L254.7 221.3L254.7 221.9L256.8 220.2L254.1 220.2L254.5 220.7L254.3 220.8ZM232.7 229.7L233.0 229.7L232.8 230.4L235.2 228.9L232.5 228.5L232.9 229.1L232.6 229.2ZM211.5 253.4L211.4 253.1L212.1 253.1L210.1 251.3L210.5 253.9L210.9 253.4L211.1 253.6ZM226.7 276.6L226.6 276.3L227.3 276.4L225.6 274.3L225.6 277.0L226.1 276.5L226.2 276.8ZM234.0 276.4L233.9 276.2L234.6 276.2L232.9 274.0L232.8 276.8L233.4 276.3L233.4 276.6ZM241.2 276.2L241.2 276.0L241.8 276.0L240.2 274.0L240.2 276.6L240.7 276.2L240.7 276.4ZM197.7 285.1L197.7 284.9L198.4 285.0L196.7 282.7L196.6 285.5L197.1 285.1L197.2 285.3ZM219.6 284.6L219.5 284.4L220.2 284.4L218.5 282.3L218.5 285.0L219.0 284.5L219.1 284.8ZM241.4 284.1L241.4 283.8L242.1 283.9L240.4 281.6L240.3 284.4L240.8 284.0L240.9 284.2ZM241.6 291.9L241.6 291.7L242.3 291.8L240.7 289.2L240.3 292.2L241.0 291.8L241.0 292.1ZM249.1 299.6L249.1 299.4L249.8 299.6L248.6 296.8L247.8 299.7L248.5 299.4L248.5 299.7ZM264.1 322.9L264.2 322.7L264.7 323.2L265.0 320.2L262.9 322.4L263.6 322.4L263.5 322.7ZM271.3 322.8L271.5 322.5L271.9 323.1L272.3 320.2L270.2 322.2L270.9 322.3L270.8 322.5ZM271.5 330.6L271.6 330.4L272.0 331.0L272.6 328.4L270.5 330.0L271.1 330.1L271.0 330.3ZM264.4 338.6L264.5 338.4L265.0 338.9L265.4 336.0L263.3 338.0L264.0 338.1L263.9 338.3ZM264.6 346.5L264.7 346.2L265.1 346.8L265.6 344.0L263.5 345.9L264.2 346.0L264.0 346.2ZM293.5 345.8L293.7 345.7L293.8 346.4L295.7 344.4L292.9 344.8L293.4 345.2L293.2 345.3Z"/><path fill="#4266ae" d="M265.9 56.2L266.0 56.0L266.4 56.5L266.7 54.0L264.9 55.8L265.5 55.8L265.4 56.0ZM309.9 55.4L310.1 55.3L310.0 56.0L312.1 54.7L309.7 54.3L310.0 54.9L309.8 54.9ZM266.1 64.1L266.1 63.9L266.6 64.3L266.7 61.8L265.0 63.6L265.7 63.6L265.6 63.9ZM273.4 63.9L273.5 63.7L273.9 64.1L274.2 61.9L272.5 63.5L273.1 63.5L273.0 63.7ZM310.0 63.2L310.2 63.2L310.1 63.8L312.2 62.6L309.9 62.2L310.2 62.7L309.9 62.7ZM266.2 71.9L266.3 71.7L266.7 72.1L266.9 69.7L265.2 71.5L265.8 71.5L265.8 71.7ZM310.2 71.1L310.4 71.0L310.3 71.6L312.3 70.4L310.0 70.0L310.3 70.5L310.1 70.6ZM266.4 79.7L266.5 79.5L266.9 79.9L267.0 77.5L265.4 79.3L266.0 79.3L265.9 79.5ZM310.3 78.9L310.5 78.8L310.5 79.4L312.3 78.1L310.1 77.9L310.4 78.4L310.2 78.4ZM273.9 87.4L273.9 87.2L274.4 87.5L274.2 85.2L272.9 87.1L273.5 87.0L273.4 87.3ZM317.8 86.6L318.0 86.5L317.9 87.1L320.0 85.9L317.6 85.5L317.9 86.0L317.7 86.1ZM274.1 95.2L274.1 95.0L274.6 95.3L274.2 92.9L273.0 95.0L273.6 94.9L273.6 95.1ZM274.2 103.0L274.2 102.8L274.8 103.1L274.3 100.7L273.2 102.9L273.8 102.7L273.7 103.0ZM318.1 102.2L318.3 102.2L318.2 102.8L320.2 101.6L317.9 101.2L318.2 101.7L318.0 101.8ZM267.0 111.0L267.0 110.8L267.6 111.0L266.8 108.6L265.9 111.0L266.5 110.8L266.5 111.0ZM274.4 110.8L274.4 110.6L275.0 110.8L273.9 108.4L273.3 110.9L273.8 110.6L273.9 110.8ZM281.9 118.5L281.8 118.2L282.4 118.4L281.4 116.2L280.8 118.6L281.3 118.3L281.4 118.5ZM201.3 128.2L201.3 128.0L201.8 128.2L201.0 126.0L200.3 128.2L200.8 128.0L200.8 128.2ZM208.6 128.0L208.6 127.8L209.2 128.0L208.4 125.7L207.6 128.0L208.2 127.8L208.2 128.0ZM216.0 127.9L216.0 127.6L216.6 127.9L216.0 125.5L214.9 127.8L215.5 127.6L215.5 127.8ZM260.0 126.8L260.0 126.6L260.6 126.8L259.5 124.5L258.9 126.9L259.5 126.6L259.5 126.9ZM267.4 126.6L267.3 126.4L267.9 126.6L266.8 124.3L266.3 126.8L266.8 126.5L266.8 126.7ZM274.7 126.5L274.7 126.2L275.3 126.4L274.0 124.1L273.6 126.6L274.1 126.3L274.2 126.5ZM282.0 126.3L282.0 126.1L282.5 126.2L281.4 124.2L281.0 126.5L281.5 126.2L281.5 126.4ZM318.5 125.7L318.7 125.7L318.7 126.2L320.5 125.0L318.3 124.8L318.6 125.2L318.4 125.3ZM201.5 136.0L201.4 135.8L202.0 135.9L200.9 133.9L200.5 136.2L201.0 135.9L201.0 136.1ZM208.8 135.8L208.8 135.6L209.4 135.7L208.1 133.7L207.8 136.0L208.3 135.7L208.3 135.9ZM216.2 135.7L216.1 135.4L216.7 135.6L215.7 133.5L215.1 135.8L215.7 135.5L215.7 135.7ZM223.5 135.5L223.5 135.3L224.1 135.6L223.3 133.2L222.4 135.5L223.0 135.3L223.0 135.5ZM230.8 135.4L230.9 135.1L231.4 135.4L230.7 133.0L229.7 135.3L230.3 135.1L230.3 135.3ZM238.2 135.2L238.2 134.9L238.8 135.2L237.8 132.8L237.1 135.2L237.6 135.0L237.7 135.2ZM260.2 134.6L260.1 134.4L260.7 134.5L259.4 132.4L259.1 134.9L259.6 134.5L259.7 134.7ZM267.5 134.5L267.4 134.2L268.0 134.3L266.8 132.3L266.5 134.7L267.0 134.3L267.0 134.6ZM274.8 134.3L274.7 134.1L275.3 134.1L273.9 132.3L273.9 134.6L274.3 134.2L274.4 134.4ZM282.1 134.1L282.1 133.9L282.6 133.9L281.1 132.2L281.2 134.5L281.6 134.1L281.7 134.3ZM333.3 133.2L333.5 133.2L333.3 133.8L335.4 132.8L333.2 132.2L333.5 132.7L333.3 132.8ZM340.6 133.1L340.8 133.1L340.6 133.6L342.8 132.8L340.6 132.1L340.8 132.6L340.6 132.6ZM201.7 143.8L201.6 143.6L202.2 143.7L200.9 141.7L200.7 144.0L201.1 143.7L201.2 143.9ZM209.0 143.6L208.9 143.4L209.5 143.5L208.2 141.5L208.0 143.9L208.5 143.5L208.5 143.8ZM216.3 143.5L216.3 143.3L216.9 143.4L215.6 141.4L215.3 143.7L215.8 143.4L215.9 143.6ZM223.7 143.3L223.6 143.1L224.2 143.3L223.3 141.2L222.7 143.4L223.2 143.2L223.2 143.4ZM231.0 143.2L231.0 143.0L231.5 143.2L230.7 141.0L230.0 143.2L230.5 143.0L230.5 143.2ZM238.3 143.0L238.3 142.8L238.9 142.9L237.8 140.8L237.3 143.1L237.8 142.8L237.8 143.1ZM245.7 142.8L245.6 142.6L246.2 142.6L244.7 140.5L244.6 143.1L245.1 142.7L245.2 142.9ZM260.3 142.4L260.3 142.2L260.9 142.3L259.4 140.2L259.3 142.8L259.8 142.4L259.8 142.6ZM267.6 142.3L267.6 142.1L268.2 142.1L266.8 140.3L266.7 142.6L267.1 142.2L267.2 142.4ZM275.0 142.1L274.9 141.9L275.4 141.9L273.8 140.2L274.0 142.5L274.4 142.1L274.5 142.3ZM282.3 141.9L282.2 141.7L282.8 141.6L281.0 140.0L281.4 142.4L281.8 141.9L281.9 142.1ZM355.5 140.6L355.7 140.5L355.6 141.1L357.7 139.7L355.2 139.5L355.6 140.0L355.3 140.1ZM209.2 151.5L209.1 151.3L209.7 151.4L208.4 149.4L208.2 151.7L208.7 151.4L208.7 151.6ZM216.5 151.3L216.5 151.1L217.0 151.2L215.8 149.3L215.5 151.5L216.0 151.2L216.0 151.4ZM245.8 150.6L245.8 150.4L246.4 150.5L245.0 148.5L244.8 150.9L245.3 150.6L245.4 150.8ZM253.2 150.4L253.1 150.2L253.7 150.3L252.2 148.3L252.1 150.8L252.6 150.4L252.7 150.6ZM260.5 150.3L260.4 150.1L261.0 150.1L259.6 148.2L259.5 150.6L259.9 150.2L260.0 150.4ZM282.4 149.7L282.3 149.6L282.9 149.5L281.3 148.0L281.6 150.2L281.9 149.8L282.0 150.0ZM363.0 148.2L363.2 148.1L363.2 148.7L364.9 146.9L362.5 147.3L362.9 147.7L362.7 147.8ZM414.4 147.0L414.5 146.8L414.8 147.4L415.9 145.0L413.6 146.2L414.2 146.4L414.0 146.6ZM407.1 155.0L407.3 154.8L407.6 155.4L408.6 153.1L406.3 154.2L406.9 154.4L406.8 154.6ZM414.5 154.8L414.6 154.6L414.9 155.2L415.9 152.8L413.6 154.1L414.2 154.3L414.1 154.5ZM407.2 162.8L407.4 162.6L407.6 163.2L408.6 161.0L406.5 162.1L407.0 162.3L406.9 162.5ZM414.6 162.6L414.7 162.5L415.0 163.0L416.0 160.7L413.8 161.9L414.4 162.1L414.2 162.3ZM246.7 198.0L246.9 197.9L246.9 198.5L248.6 197.0L246.3 197.0L246.7 197.4L246.5 197.5ZM217.6 206.5L217.8 206.5L217.7 207.1L219.8 205.9L217.4 205.5L217.7 206.0L217.5 206.0ZM261.5 205.5L261.7 205.4L261.7 206.0L263.5 204.3L261.0 204.5L261.5 204.9L261.3 205.0ZM210.4 214.5L210.6 214.5L210.5 215.1L212.6 214.0L210.3 213.5L210.6 214.0L210.4 214.0ZM217.7 214.4L218.0 214.3L217.8 214.9L219.9 213.8L217.6 213.3L217.9 213.8L217.7 213.9ZM217.9 222.2L218.1 222.1L218.0 222.7L220.0 221.5L217.7 221.2L218.0 221.7L217.8 221.7ZM261.8 221.1L262.0 221.0L262.1 221.6L263.6 219.8L261.3 220.2L261.8 220.6L261.6 220.7ZM225.4 229.9L225.6 229.8L225.6 230.4L227.6 229.0L225.1 228.8L225.5 229.3L225.3 229.4ZM240.0 229.5L240.3 229.5L240.2 230.1L242.2 228.6L239.7 228.5L240.1 229.0L239.9 229.0ZM211.3 245.5L211.3 245.3L211.9 245.3L210.1 243.6L210.4 246.0L210.8 245.6L210.9 245.8ZM218.8 253.2L218.7 253.0L219.3 252.9L217.5 251.2L217.8 253.7L218.3 253.2L218.4 253.4ZM226.1 253.0L226.0 252.8L226.6 252.8L224.9 251.2L225.2 253.5L225.6 253.1L225.7 253.2ZM233.4 252.9L233.3 252.7L233.9 252.6L232.1 251.0L232.5 253.3L232.9 252.9L233.0 253.1ZM211.7 261.2L211.6 261.0L212.2 260.9L210.4 259.2L210.7 261.7L211.1 261.3L211.3 261.5ZM219.0 261.0L218.9 260.8L219.5 260.8L217.7 259.1L218.0 261.5L218.4 261.1L218.5 261.3ZM226.3 260.9L226.2 260.7L226.8 260.6L224.9 259.0L225.3 261.4L225.7 260.9L225.8 261.1ZM233.6 260.7L233.4 260.5L234.1 260.3L232.0 258.8L232.6 261.3L233.0 260.8L233.1 261.0ZM240.9 260.5L240.7 260.3L241.3 260.2L239.5 258.7L239.9 261.0L240.3 260.6L240.4 260.8ZM248.1 260.3L248.0 260.2L248.6 260.1L246.9 258.6L247.3 260.8L247.6 260.4L247.7 260.6ZM255.4 260.2L255.3 260.0L255.9 259.9L254.1 258.4L254.6 260.7L254.9 260.2L255.0 260.4ZM211.9 269.1L211.8 268.9L212.4 268.8L210.7 267.1L210.9 269.5L211.4 269.1L211.4 269.3ZM219.2 268.9L219.1 268.7L219.7 268.7L218.0 266.9L218.2 269.3L218.6 268.9L218.7 269.1ZM226.5 268.7L226.4 268.5L227.0 268.5L225.2 266.7L225.5 269.2L225.9 268.7L226.0 268.9ZM233.8 268.5L233.6 268.3L234.3 268.2L232.4 266.6L232.8 269.1L233.2 268.6L233.3 268.8ZM241.0 268.4L240.9 268.2L241.5 268.1L239.8 266.4L240.1 268.8L240.5 268.4L240.6 268.6ZM248.3 268.2L248.2 268.0L248.8 268.0L247.2 266.3L247.4 268.6L247.8 268.2L247.9 268.4ZM255.6 268.0L255.5 267.8L256.1 267.8L254.4 266.2L254.7 268.5L255.1 268.0L255.2 268.2ZM212.1 276.9L212.0 276.7L212.6 276.7L210.9 275.0L211.1 277.4L211.5 276.9L211.6 277.1ZM219.4 276.7L219.3 276.5L219.9 276.5L218.2 274.7L218.4 277.2L218.8 276.7L218.9 276.9ZM248.5 276.1L248.4 275.9L249.0 275.9L247.5 274.1L247.5 276.4L248.0 276.0L248.0 276.2ZM321.3 282.4L321.5 282.4L321.5 283.0L323.5 281.5L321.0 281.4L321.4 281.9L321.2 281.9ZM256.3 299.5L256.3 299.2L256.9 299.4L255.9 297.2L255.2 299.5L255.8 299.3L255.8 299.5ZM263.7 307.2L263.8 307.0L264.3 307.4L264.2 304.8L262.7 306.9L263.3 306.8L263.2 307.1ZM271.0 307.0L271.1 306.9L271.4 307.3L271.6 305.0L270.1 306.7L270.6 306.7L270.5 306.9ZM278.5 322.6L278.7 322.4L278.9 323.0L279.8 320.8L277.8 321.9L278.3 322.1L278.2 322.3ZM300.2 322.2L300.4 322.1L300.3 322.7L302.5 321.4L300.0 321.1L300.3 321.6L300.1 321.7ZM278.7 330.5L278.8 330.3L279.1 330.8L280.1 328.6L277.9 329.7L278.5 330.0L278.3 330.1ZM285.9 330.3L286.1 330.2L286.3 330.7L287.5 328.7L285.3 329.5L285.8 329.8L285.6 329.9ZM293.1 330.1L293.3 330.1L293.4 330.7L295.1 329.0L292.7 329.2L293.1 329.6L292.9 329.7ZM271.6 338.5L271.7 338.3L272.0 338.8L272.9 336.5L270.8 337.8L271.4 338.0L271.2 338.1ZM278.8 338.3L279.0 338.1L279.2 338.7L280.3 336.5L278.1 337.6L278.6 337.8L278.5 337.9ZM286.1 338.1L286.3 338.0L286.5 338.5L287.6 336.4L285.4 337.3L285.9 337.6L285.8 337.8ZM271.8 346.3L271.9 346.1L272.2 346.7L273.1 344.3L270.9 345.6L271.5 345.8L271.4 346.0Z"/><path fill="#4260a8" d="M273.2 56.1L273.3 55.9L273.7 56.3L274.1 54.1L272.4 55.6L272.9 55.7L272.8 55.8ZM302.5 55.5L302.7 55.5L302.7 56.0L304.5 54.8L302.3 54.6L302.6 55.0L302.4 55.1ZM302.7 63.4L302.9 63.3L302.8 63.9L304.6 62.7L302.5 62.4L302.8 62.9L302.6 62.9ZM273.5 71.7L273.6 71.6L274.0 72.0L274.3 69.8L272.7 71.3L273.2 71.4L273.1 71.5ZM302.8 71.2L303.0 71.1L303.0 71.7L304.7 70.4L302.6 70.3L302.9 70.7L302.7 70.8ZM273.7 79.6L273.8 79.4L274.2 79.8L274.3 77.6L272.8 79.2L273.4 79.2L273.3 79.4ZM317.9 94.4L318.1 94.3L318.0 94.9L319.9 93.8L317.8 93.4L318.1 93.9L317.9 93.9ZM281.7 110.7L281.7 110.5L282.2 110.7L281.5 108.6L280.7 110.7L281.2 110.5L281.2 110.7ZM186.6 128.5L186.6 128.3L187.1 128.5L186.3 126.5L185.7 128.6L186.2 128.3L186.2 128.5ZM194.0 128.3L193.9 128.1L194.5 128.3L193.7 126.2L193.0 128.4L193.5 128.2L193.5 128.4ZM186.8 136.3L186.8 136.1L187.3 136.3L186.3 134.4L185.9 136.5L186.3 136.2L186.4 136.4ZM194.1 136.2L194.1 136.0L194.6 136.1L193.6 134.1L193.2 136.3L193.7 136.0L193.7 136.2ZM194.3 144.0L194.3 143.8L194.8 143.9L193.7 142.0L193.4 144.2L193.8 143.9L193.9 144.1ZM289.6 141.7L289.5 141.6L290.1 141.5L288.5 140.0L288.8 142.2L289.1 141.8L289.2 141.9ZM201.8 151.7L201.8 151.5L202.3 151.5L201.1 149.7L200.9 151.9L201.3 151.6L201.4 151.8ZM223.8 151.2L223.8 151.0L224.3 151.1L223.3 149.2L222.9 151.3L223.4 151.0L223.4 151.2ZM231.1 151.0L231.1 150.8L231.6 151.0L230.7 149.0L230.2 151.1L230.7 150.9L230.7 151.1ZM238.5 150.8L238.4 150.6L239.0 150.7L237.9 148.8L237.5 151.0L238.0 150.7L238.0 150.9ZM267.8 150.1L267.7 149.9L268.3 150.0L267.0 148.2L266.9 150.4L267.3 150.1L267.4 150.3ZM275.1 149.9L275.0 149.7L275.6 149.7L274.1 148.1L274.2 150.3L274.6 149.9L274.7 150.1ZM363.1 156.0L363.3 155.9L363.4 156.4L364.5 154.5L362.5 155.3L363.0 155.5L362.8 155.7ZM231.9 190.4L232.1 190.4L232.0 190.9L233.7 189.5L231.5 189.6L231.9 190.0L231.7 190.0ZM254.0 197.7L254.2 197.7L254.2 198.2L255.6 196.7L253.6 197.0L254.0 197.3L253.8 197.4ZM210.3 206.7L210.4 206.6L210.3 207.2L212.3 206.1L210.1 205.7L210.4 206.2L210.2 206.2ZM269.0 213.1L269.1 213.0L269.3 213.5L270.5 211.8L268.4 212.3L268.9 212.6L268.7 212.7ZM210.6 222.3L210.8 222.3L210.7 222.8L212.6 221.8L210.5 221.4L210.7 221.9L210.5 221.9ZM269.1 220.9L269.3 220.8L269.4 221.3L270.7 219.5L268.6 220.1L269.0 220.4L268.9 220.5ZM247.4 229.3L247.5 229.2L247.6 229.7L249.1 228.1L246.9 228.4L247.3 228.8L247.2 228.9ZM218.6 245.4L218.6 245.2L219.1 245.2L217.7 243.5L217.7 245.7L218.1 245.4L218.2 245.6ZM240.7 252.7L240.6 252.5L241.1 252.5L239.6 250.9L239.8 253.1L240.2 252.7L240.3 252.9ZM248.0 252.5L247.9 252.4L248.4 252.3L247.0 250.8L247.1 252.9L247.5 252.5L247.6 252.7ZM255.3 252.3L255.2 252.2L255.7 252.1L254.2 250.6L254.4 252.7L254.8 252.4L254.9 252.5ZM262.7 260.0L262.6 259.8L263.2 259.8L261.6 258.3L261.9 260.4L262.2 260.0L262.3 260.2ZM262.9 267.9L262.8 267.7L263.3 267.7L261.9 266.2L262.0 268.2L262.4 267.9L262.5 268.0ZM255.7 275.9L255.7 275.7L256.2 275.7L254.8 274.2L254.9 276.2L255.3 275.9L255.4 276.0ZM306.9 290.6L307.1 290.5L307.0 291.1L308.9 289.9L306.6 289.7L307.0 290.1L306.8 290.2ZM263.5 299.3L263.5 299.1L264.0 299.3L263.3 297.3L262.6 299.3L263.1 299.1L263.1 299.3ZM299.8 298.6L300.0 298.6L299.9 299.1L301.7 297.9L299.5 297.7L299.8 298.1L299.6 298.2ZM278.3 314.8L278.5 314.6L278.7 315.1L279.6 313.2L277.7 314.1L278.2 314.3L278.0 314.5Z"/><path fill="#3c5aa8" d="M280.5 55.9L280.6 55.8L280.8 56.2L281.5 54.7L280.0 55.4L280.4 55.6L280.3 55.7ZM287.8 55.8L287.9 55.7L288.0 56.0L288.9 54.9L287.5 55.2L287.8 55.4L287.7 55.5ZM295.2 55.6L295.3 55.6L295.4 56.0L296.5 54.8L294.9 55.0L295.2 55.3L295.0 55.3ZM280.6 63.7L280.7 63.7L280.9 64.0L281.6 62.7L280.2 63.3L280.5 63.4L280.4 63.5ZM295.3 63.4L295.5 63.4L295.5 63.8L296.5 62.6L295.0 62.9L295.3 63.1L295.2 63.2ZM280.8 71.6L280.9 71.5L281.1 71.8L281.7 70.3L280.3 71.1L280.7 71.2L280.6 71.4ZM288.1 71.4L288.2 71.3L288.3 71.7L289.1 70.5L287.8 70.9L288.1 71.1L288.0 71.2ZM295.5 71.3L295.6 71.2L295.7 71.6L296.7 70.4L295.1 70.7L295.5 70.9L295.3 71.0ZM288.3 79.2L288.4 79.1L288.6 79.5L289.1 78.0L287.8 78.8L288.2 78.9L288.1 79.0ZM295.7 79.1L295.8 79.0L295.9 79.4L296.8 78.0L295.2 78.6L295.6 78.8L295.5 78.9ZM288.5 87.0L288.5 86.9L288.8 87.1L288.8 85.6L287.9 86.8L288.2 86.8L288.2 86.9ZM295.8 86.9L295.9 86.8L296.1 87.1L296.5 85.7L295.3 86.5L295.7 86.6L295.6 86.7ZM303.1 86.8L303.3 86.7L303.3 87.2L304.5 86.0L302.8 86.1L303.1 86.4L303.0 86.5ZM288.7 94.8L288.7 94.7L289.0 94.9L288.7 93.4L288.0 94.8L288.4 94.7L288.4 94.8ZM296.0 94.7L296.0 94.6L296.3 94.8L296.4 93.4L295.4 94.5L295.8 94.5L295.7 94.6ZM303.3 94.6L303.4 94.6L303.4 95.0L304.6 94.0L303.0 94.0L303.3 94.3L303.1 94.3ZM288.8 102.7L288.8 102.6L289.2 102.8L289.0 101.2L288.2 102.5L288.5 102.5L288.5 102.6ZM296.1 102.6L296.2 102.5L296.4 102.7L296.7 101.4L295.6 102.3L295.9 102.3L295.9 102.4ZM303.4 102.5L303.5 102.4L303.6 102.8L304.6 101.7L303.1 101.9L303.4 102.1L303.3 102.2ZM289.0 110.5L289.0 110.4L289.3 110.6L289.2 109.0L288.3 110.4L288.7 110.3L288.6 110.5ZM310.9 110.1L311.0 110.1L311.1 110.5L312.2 109.4L310.6 109.5L310.9 109.8L310.8 109.8ZM289.1 118.4L289.1 118.2L289.5 118.4L289.2 116.8L288.4 118.2L288.8 118.2L288.8 118.3ZM289.3 126.2L289.3 126.0L289.7 126.2L289.1 124.6L288.5 126.2L288.9 126.0L288.9 126.2ZM296.7 133.8L296.7 133.7L297.1 133.8L296.6 132.6L296.1 133.8L296.5 133.7L296.5 133.8ZM296.9 141.6L296.9 141.5L297.2 141.5L296.4 140.3L296.2 141.8L296.6 141.6L296.6 141.7ZM311.5 141.3L311.5 141.1L311.8 141.1L310.6 140.2L311.0 141.6L311.2 141.3L311.3 141.4ZM326.1 141.1L326.2 141.1L326.3 141.4L327.2 140.4L325.9 140.6L326.1 140.8L326.0 140.9ZM297.0 149.5L297.0 149.3L297.4 149.4L296.5 148.1L296.4 149.7L296.7 149.4L296.7 149.6ZM333.6 148.8L333.7 148.8L333.7 149.2L334.9 148.2L333.4 148.2L333.6 148.5L333.5 148.5ZM340.9 148.6L341.1 148.6L341.0 149.0L342.3 148.0L340.7 148.0L341.0 148.3L340.8 148.3ZM143.4 160.9L143.3 160.7L143.8 160.8L142.9 159.4L142.7 161.0L143.0 160.8L143.0 160.9ZM150.7 160.7L150.7 160.5L151.1 160.6L150.1 159.2L150.0 160.9L150.3 160.6L150.4 160.8ZM289.9 157.5L289.8 157.3L290.2 157.3L289.1 156.1L289.2 157.7L289.5 157.4L289.6 157.6ZM297.2 157.3L297.1 157.2L297.5 157.2L296.5 156.2L296.6 157.5L296.9 157.3L296.9 157.4ZM333.8 156.6L333.9 156.5L334.0 156.8L334.6 155.5L333.3 156.2L333.7 156.3L333.6 156.4ZM143.6 168.7L143.5 168.6L143.9 168.6L143.1 167.3L142.9 168.9L143.2 168.7L143.3 168.8ZM150.9 168.5L150.8 168.4L151.2 168.4L150.2 167.2L150.2 168.8L150.5 168.5L150.6 168.6ZM158.2 168.3L158.1 168.2L158.6 168.2L157.4 167.0L157.6 168.7L157.8 168.4L157.9 168.5ZM165.5 168.2L165.4 168.0L165.9 168.0L164.5 166.9L164.9 168.5L165.1 168.2L165.2 168.3ZM180.2 167.8L180.1 167.7L180.5 167.6L179.2 166.5L179.5 168.2L179.8 167.9L179.9 168.0ZM187.5 167.7L187.4 167.5L187.9 167.5L186.7 166.3L186.8 168.0L187.1 167.7L187.2 167.8ZM194.8 167.5L194.8 167.4L195.2 167.3L194.0 166.1L194.1 167.8L194.4 167.5L194.5 167.6ZM224.1 166.8L224.1 166.7L224.5 166.7L223.5 165.4L223.4 167.0L223.8 166.8L223.8 166.9ZM231.4 166.7L231.4 166.5L231.8 166.6L231.1 165.2L230.8 166.8L231.1 166.6L231.1 166.7ZM238.7 166.5L238.7 166.4L239.1 166.4L238.1 165.2L238.1 166.7L238.4 166.5L238.4 166.6ZM246.1 166.3L246.0 166.2L246.4 166.1L245.0 165.1L245.5 166.7L245.7 166.4L245.8 166.5ZM253.4 166.1L253.3 166.0L253.7 165.8L252.1 165.1L252.8 166.6L253.0 166.2L253.1 166.3ZM260.7 165.9L260.6 165.8L261.0 165.7L259.6 164.8L260.1 166.4L260.3 166.0L260.4 166.1ZM268.0 165.8L268.0 165.7L268.4 165.7L267.3 164.5L267.4 166.1L267.7 165.8L267.7 165.9ZM275.4 165.6L275.3 165.5L275.7 165.5L274.8 164.3L274.7 165.8L275.0 165.6L275.1 165.7ZM282.7 165.5L282.6 165.3L283.0 165.3L282.0 164.3L282.1 165.7L282.4 165.5L282.4 165.6ZM290.0 165.3L289.9 165.2L290.2 165.1L289.1 164.3L289.5 165.6L289.7 165.3L289.7 165.4ZM297.3 165.1L297.2 165.0L297.5 164.8L296.2 164.2L296.8 165.5L297.0 165.2L297.1 165.3ZM333.9 164.4L334.0 164.3L334.2 164.5L334.2 163.1L333.4 164.2L333.7 164.2L333.7 164.3ZM341.3 164.2L341.3 164.1L341.6 164.4L341.8 162.8L340.7 163.9L341.1 164.0L341.0 164.1ZM143.8 176.6L143.7 176.4L144.1 176.5L143.3 175.3L143.1 176.7L143.4 176.5L143.5 176.6ZM151.1 176.4L151.0 176.3L151.4 176.3L150.4 175.1L150.5 176.6L150.7 176.4L150.8 176.5ZM158.4 176.2L158.3 176.1L158.7 176.0L157.5 175.0L157.8 176.5L158.0 176.2L158.1 176.3ZM165.7 176.0L165.6 175.9L166.0 175.8L164.7 174.8L165.1 176.4L165.3 176.1L165.4 176.2ZM180.4 175.7L180.3 175.5L180.7 175.4L179.3 174.5L179.7 176.1L180.0 175.7L180.1 175.9ZM187.7 175.5L187.6 175.4L188.0 175.3L186.9 174.3L187.1 175.8L187.3 175.5L187.4 175.7ZM195.0 175.3L194.9 175.2L195.3 175.2L194.1 174.1L194.4 175.7L194.6 175.4L194.7 175.5ZM224.3 174.7L224.2 174.6L224.6 174.6L223.8 173.4L223.7 174.9L224.0 174.6L224.0 174.8ZM231.6 174.6L231.6 174.4L231.9 174.6L231.4 173.3L231.0 174.6L231.3 174.4L231.3 174.6ZM238.9 174.3L238.9 174.2L239.2 174.3L238.4 173.2L238.3 174.5L238.6 174.3L238.6 174.4ZM246.2 174.1L246.1 174.0L246.5 173.8L245.0 173.1L245.7 174.6L245.9 174.2L246.0 174.3ZM260.8 173.8L260.7 173.6L261.1 173.5L259.6 172.8L260.3 174.3L260.5 173.9L260.6 174.0ZM268.2 173.6L268.1 173.5L268.5 173.5L267.5 172.5L267.6 173.9L267.9 173.6L267.9 173.8ZM275.5 173.5L275.5 173.4L275.8 173.4L275.1 172.3L274.9 173.6L275.2 173.4L275.2 173.6ZM290.1 173.1L290.0 173.0L290.4 172.8L289.1 172.2L289.7 173.5L289.8 173.2L289.9 173.3ZM297.4 172.9L297.3 172.8L297.7 172.6L296.2 172.1L297.0 173.4L297.1 173.1L297.2 173.1ZM304.8 172.7L304.7 172.7L305.0 172.5L303.7 171.9L304.3 173.2L304.5 172.9L304.6 172.9ZM341.4 172.0L341.4 171.9L341.7 172.1L341.7 170.8L340.8 171.9L341.2 171.8L341.1 171.9ZM348.7 171.9L348.8 171.8L349.1 172.1L349.3 170.5L348.1 171.6L348.5 171.6L348.4 171.7ZM144.0 184.4L143.9 184.3L144.3 184.3L143.5 183.2L143.4 184.6L143.7 184.4L143.7 184.5ZM151.3 184.2L151.2 184.1L151.6 184.1L150.7 183.1L150.7 184.4L151.0 184.2L151.0 184.3ZM158.6 184.0L158.5 183.9L158.9 183.9L157.8 182.9L158.0 184.3L158.3 184.1L158.3 184.2ZM165.9 183.9L165.8 183.7L166.2 183.7L165.0 182.7L165.3 184.2L165.6 183.9L165.6 184.0ZM173.2 183.7L173.1 183.6L173.5 183.5L172.2 182.5L172.6 184.1L172.9 183.7L173.0 183.9ZM180.5 183.5L180.5 183.4L180.8 183.3L179.6 182.4L180.0 183.9L180.2 183.6L180.3 183.7ZM187.9 183.4L187.8 183.3L188.2 183.2L187.2 182.2L187.3 183.6L187.5 183.4L187.6 183.5ZM195.2 183.2L195.1 183.1L195.5 183.1L194.6 182.0L194.6 183.4L194.9 183.2L194.9 183.3ZM202.5 183.0L202.4 182.9L202.8 182.8L201.6 181.8L201.9 183.4L202.1 183.0L202.2 183.2ZM209.8 182.8L209.7 182.7L210.1 182.6L208.7 181.6L209.2 183.3L209.4 182.9L209.5 183.0ZM217.1 182.7L217.1 182.6L217.4 182.5L216.4 181.5L216.6 182.9L216.8 182.7L216.9 182.8ZM253.7 181.8L253.6 181.7L253.9 181.5L252.6 180.8L253.2 182.2L253.4 181.9L253.5 182.0ZM261.0 181.6L260.9 181.5L261.3 181.5L260.2 180.6L260.5 182.0L260.7 181.7L260.8 181.8ZM297.6 180.8L297.5 180.7L297.8 180.5L296.6 179.9L297.2 181.2L297.3 180.9L297.4 181.0ZM341.5 179.9L341.6 179.8L341.8 180.0L341.8 178.6L341.0 179.7L341.3 179.7L341.3 179.8ZM348.8 179.7L348.9 179.6L349.1 179.9L349.4 178.4L348.3 179.4L348.7 179.5L348.6 179.6ZM400.1 178.5L400.1 178.4L400.3 178.8L400.8 177.4L399.6 178.1L399.9 178.3L399.8 178.4ZM341.7 187.7L341.7 187.6L341.9 187.8L342.0 186.5L341.1 187.5L341.5 187.5L341.4 187.6ZM349.0 187.6L349.0 187.5L349.3 187.7L349.6 186.3L348.4 187.2L348.8 187.3L348.7 187.4ZM202.8 198.9L202.9 198.8L203.0 199.2L203.8 198.1L202.5 198.4L202.7 198.6L202.6 198.7ZM210.1 198.8L210.2 198.7L210.3 199.1L211.5 198.0L209.8 198.1L210.1 198.4L210.0 198.4ZM268.6 197.3L268.7 197.2L268.9 197.6L269.6 196.2L268.2 196.9L268.5 197.0L268.4 197.1ZM349.1 195.4L349.2 195.3L349.4 195.6L349.7 194.2L348.6 195.1L348.9 195.1L348.9 195.2ZM276.1 205.0L276.2 204.9L276.3 205.2L276.9 204.0L275.7 204.6L276.0 204.7L275.9 204.8ZM283.7 220.5L283.8 220.3L284.0 220.6L284.3 219.2L283.2 220.1L283.6 220.2L283.5 220.3ZM210.9 230.1L211.0 230.0L211.1 230.4L212.1 229.1L210.5 229.5L210.8 229.7L210.7 229.8ZM283.9 228.3L284.0 228.1L284.3 228.3L284.0 226.7L283.2 228.1L283.6 228.0L283.6 228.2ZM298.5 227.9L298.5 227.7L298.9 227.9L298.3 226.3L297.8 227.9L298.2 227.7L298.2 227.9ZM305.8 227.7L305.8 227.6L306.1 227.7L305.8 226.4L305.2 227.7L305.5 227.6L305.5 227.7ZM211.1 237.8L211.1 237.7L211.5 237.8L211.0 236.3L210.4 237.8L210.8 237.7L210.8 237.8ZM218.4 237.7L218.4 237.5L218.7 237.8L218.7 236.2L217.7 237.5L218.1 237.5L218.1 237.6ZM225.7 237.6L225.8 237.5L226.0 237.8L226.5 236.3L225.1 237.1L225.5 237.2L225.4 237.4ZM247.6 237.0L247.7 236.9L247.9 237.3L248.4 235.6L247.0 236.6L247.4 236.7L247.3 236.8ZM306.0 235.5L306.0 235.4L306.3 235.5L305.8 234.1L305.3 235.5L305.7 235.4L305.7 235.5ZM313.3 235.4L313.3 235.3L313.6 235.4L313.3 234.1L312.7 235.3L313.0 235.2L313.0 235.3ZM240.5 244.9L240.5 244.8L240.9 244.9L240.3 243.3L239.7 245.0L240.1 244.8L240.1 245.0ZM306.1 243.4L306.1 243.2L306.5 243.4L305.9 241.9L305.4 243.4L305.8 243.2L305.8 243.4ZM313.4 243.2L313.4 243.1L313.7 243.2L313.4 241.9L312.8 243.2L313.1 243.0L313.1 243.2ZM320.7 243.0L320.7 242.9L321.0 243.1L320.9 241.8L320.1 242.9L320.5 242.9L320.4 243.0ZM277.1 251.9L277.1 251.8L277.5 251.9L277.0 250.3L276.4 251.9L276.8 251.7L276.8 251.9ZM284.4 251.7L284.4 251.6L284.8 251.7L284.2 250.2L283.7 251.7L284.1 251.6L284.1 251.7ZM291.7 251.5L291.7 251.4L292.1 251.5L291.3 250.0L291.0 251.6L291.3 251.4L291.4 251.6ZM299.0 251.4L299.0 251.2L299.3 251.3L298.5 249.9L298.3 251.5L298.6 251.3L298.7 251.4ZM306.3 251.2L306.3 251.0L306.6 251.1L305.9 249.7L305.6 251.3L305.9 251.1L306.0 251.2ZM313.6 251.0L313.6 250.9L313.9 251.0L313.5 249.7L312.9 251.0L313.3 250.9L313.3 251.0ZM320.8 250.9L320.9 250.8L321.1 251.0L321.0 249.6L320.2 250.7L320.6 250.7L320.6 250.8ZM277.3 259.7L277.3 259.6L277.6 259.7L277.0 258.2L276.5 259.8L276.9 259.6L276.9 259.8ZM284.5 259.6L284.5 259.4L284.9 259.5L284.3 258.1L283.9 259.6L284.2 259.4L284.2 259.6ZM291.8 259.4L291.8 259.2L292.2 259.3L291.4 257.9L291.2 259.5L291.5 259.3L291.5 259.4ZM299.1 259.2L299.1 259.0L299.5 259.1L298.6 257.7L298.4 259.3L298.8 259.1L298.8 259.3ZM306.4 259.0L306.4 258.9L306.8 258.9L306.0 257.6L305.7 259.1L306.1 258.9L306.1 259.1ZM313.7 258.9L313.7 258.7L314.0 258.9L313.6 257.5L313.1 258.8L313.4 258.7L313.4 258.9ZM277.4 267.6L277.4 267.4L277.8 267.5L277.1 266.2L276.7 267.6L277.1 267.5L277.1 267.6ZM284.7 267.4L284.7 267.3L285.0 267.4L284.5 266.2L284.1 267.4L284.4 267.3L284.4 267.4ZM292.0 267.2L291.9 267.1L292.3 267.2L291.7 266.0L291.4 267.3L291.7 267.1L291.7 267.2ZM299.3 267.0L299.2 266.9L299.6 267.0L298.9 265.7L298.6 267.1L298.9 266.9L299.0 267.1ZM306.5 266.9L306.5 266.7L306.9 266.8L306.3 265.5L305.9 266.9L306.2 266.8L306.3 266.9ZM313.8 266.7L313.9 266.6L314.1 266.8L314.0 265.5L313.2 266.6L313.6 266.5L313.6 266.7ZM277.5 275.4L277.5 275.3L277.9 275.4L277.2 274.1L276.9 275.5L277.3 275.3L277.3 275.4ZM313.9 274.6L314.0 274.5L314.2 274.8L314.7 273.5L313.5 274.2L313.8 274.3L313.7 274.4ZM278.0 299.0L278.1 298.9L278.3 299.2L278.5 297.7L277.4 298.7L277.8 298.7L277.7 298.9ZM285.2 298.9L285.3 298.8L285.5 299.1L286.1 297.9L284.8 298.4L285.2 298.6L285.1 298.7ZM292.5 298.7L292.6 298.6L292.7 299.0L293.7 297.9L292.2 298.1L292.5 298.4L292.4 298.4Z"/><path fill="#4e7eba" d="M324.7 55.2L325.3 55.1L325.1 56.0L328.4 54.0L324.6 53.5L325.1 54.3L324.5 54.4ZM324.9 70.9L325.4 70.8L325.3 71.7L328.5 69.7L324.7 69.2L325.3 70.0L324.8 70.1ZM332.4 78.5L333.0 78.4L332.8 79.4L336.1 77.4L332.3 76.9L332.8 77.7L332.3 77.8ZM340.0 94.0L340.6 94.0L340.4 94.9L343.8 93.1L340.0 92.4L340.5 93.2L339.9 93.3ZM340.5 125.4L341.1 125.3L340.8 126.3L344.3 124.8L340.7 123.7L341.1 124.6L340.5 124.6ZM183.7 301.2L183.6 300.6L184.5 300.8L182.7 297.4L182.0 301.2L182.8 300.7L182.9 301.3ZM205.5 300.7L205.4 300.0L206.3 300.2L204.5 296.9L203.8 300.6L204.6 300.2L204.7 300.8ZM307.1 306.4L307.9 306.4L307.5 307.3L311.1 305.9L307.4 304.8L307.8 305.6L307.1 305.7ZM249.5 315.4L249.6 314.8L250.4 315.3L249.6 311.5L247.9 314.9L248.8 314.7L248.7 315.3Z"/><path fill="#5484ba" d="M332.0 55.0L333.2 54.8L333.0 55.7L336.3 53.7L332.5 53.2L333.0 54.0L331.8 54.3ZM332.3 70.7L333.4 70.5L333.2 71.4L336.4 69.4L332.7 68.9L333.2 69.7L332.1 69.9ZM339.8 78.4L340.8 78.1L340.6 79.1L343.9 77.1L340.1 76.6L340.6 77.4L339.6 77.6ZM234.6 300.0L234.5 298.9L235.4 299.2L233.9 295.7L232.9 299.4L233.8 299.0L233.8 300.0ZM314.6 314.1L315.7 314.1L315.4 315.0L318.9 313.6L315.3 312.4L315.7 313.3L314.5 313.3ZM177.0 324.9L176.8 323.8L177.7 324.0L175.9 320.6L175.2 324.4L176.0 323.9L176.2 325.0ZM184.3 324.7L184.1 323.6L185.0 323.8L183.2 320.4L182.5 324.2L183.3 323.7L183.5 324.9ZM314.7 321.9L315.9 321.9L315.6 322.8L319.1 321.3L315.4 320.2L315.8 321.1L314.7 321.2ZM199.0 332.2L198.8 331.1L199.7 331.3L197.9 327.9L197.2 331.7L198.0 331.2L198.2 332.3ZM213.5 331.9L213.4 330.7L214.3 331.0L212.8 327.5L211.8 331.2L212.6 330.8L212.7 331.9ZM213.7 339.7L213.7 338.7L214.6 339.0L213.1 335.5L212.0 339.1L212.9 338.7L212.9 339.8ZM221.1 347.4L221.2 346.4L222.0 346.7L220.9 343.1L219.5 346.6L220.4 346.3L220.4 347.4ZM250.2 346.7L250.3 345.6L251.2 346.1L250.5 342.3L248.6 345.7L249.6 345.5L249.4 346.6ZM307.9 345.6L309.0 345.5L308.8 346.4L312.2 344.9L308.6 343.9L309.0 344.7L307.8 344.8Z"/><path fill="#548ac0" d="M339.4 54.9L340.8 54.5L340.6 55.5L343.8 53.4L340.0 53.0L340.6 53.8L339.2 54.1ZM332.1 62.9L333.4 62.6L333.2 63.6L336.5 61.6L332.7 61.0L333.2 61.9L332.0 62.1ZM339.5 62.7L340.9 62.4L340.7 63.3L344.0 61.3L340.2 60.8L340.7 61.6L339.3 61.9ZM339.6 70.5L340.9 70.2L340.8 71.2L344.0 69.1L340.2 68.7L340.8 69.5L339.5 69.8ZM340.2 109.7L341.5 109.6L341.2 110.5L344.7 109.0L341.0 108.0L341.4 108.8L340.2 108.9ZM340.4 117.6L341.7 117.5L341.4 118.4L345.0 117.0L341.3 115.8L341.7 116.7L340.3 116.8ZM347.8 125.2L349.2 125.2L348.9 126.1L352.4 124.7L348.8 123.5L349.2 124.4L347.8 124.4ZM355.2 125.0L356.6 125.0L356.3 125.9L359.8 124.4L356.1 123.3L356.5 124.2L355.1 124.3ZM370.0 132.5L371.3 132.4L371.1 133.3L374.5 131.6L370.8 130.8L371.2 131.6L369.9 131.8ZM220.1 300.3L220.0 299.0L220.9 299.3L219.3 295.8L218.3 299.5L219.2 299.1L219.3 300.4ZM191.1 308.9L190.9 307.7L191.9 307.9L190.0 304.5L189.3 308.3L190.2 307.8L190.4 309.0ZM198.4 308.7L198.2 307.4L199.1 307.6L197.2 304.3L196.6 308.1L197.4 307.5L197.6 308.8ZM205.7 308.5L205.5 307.3L206.4 307.5L204.6 304.2L203.9 308.0L204.7 307.5L204.9 308.6ZM213.0 308.4L212.8 307.1L213.8 307.3L212.1 303.9L211.2 307.6L212.1 307.2L212.2 308.4ZM314.4 306.3L315.7 306.3L315.3 307.1L318.9 305.8L315.3 304.6L315.7 305.5L314.4 305.5ZM321.7 306.1L322.9 306.1L322.6 307.0L326.1 305.6L322.5 304.4L322.9 305.3L321.7 305.3ZM329.0 305.9L330.2 305.8L329.9 306.7L333.5 305.3L329.8 304.2L330.2 305.1L328.9 305.1ZM336.2 305.7L337.5 305.6L337.2 306.6L340.7 305.1L337.1 304.0L337.5 304.9L336.2 304.9ZM191.3 316.7L191.1 315.4L192.0 315.6L190.1 312.3L189.5 316.0L190.3 315.5L190.6 316.8ZM198.6 316.5L198.3 315.1L199.3 315.3L197.3 312.0L196.8 315.8L197.6 315.3L197.8 316.7ZM213.1 316.2L213.0 314.9L213.9 315.1L212.3 311.7L211.4 315.4L212.2 314.9L212.4 316.3ZM242.2 315.5L242.3 314.1L243.2 314.5L242.1 310.9L240.6 314.4L241.5 314.1L241.4 315.5ZM213.3 324.0L213.2 322.8L214.1 323.0L212.5 319.6L211.6 323.3L212.4 322.9L212.6 324.1ZM249.7 323.2L249.8 321.8L250.7 322.3L249.9 318.6L248.1 322.0L249.1 321.7L248.9 323.1ZM177.2 332.8L177.0 331.6L177.9 331.8L176.1 328.4L175.4 332.2L176.2 331.7L176.4 332.9ZM220.8 331.7L220.8 330.3L221.7 330.7L220.4 327.1L219.1 330.7L220.0 330.4L220.0 331.7ZM314.8 329.8L316.2 329.7L315.9 330.6L319.5 329.1L315.8 328.0L316.2 328.9L314.8 329.0ZM221.0 339.6L221.0 338.3L221.9 338.7L220.6 335.1L219.3 338.6L220.2 338.3L220.2 339.6ZM307.7 337.8L309.0 337.7L308.7 338.6L312.2 337.1L308.5 336.1L309.0 336.9L307.7 337.0ZM228.4 347.3L228.5 345.9L229.4 346.3L228.3 342.6L226.8 346.1L227.7 345.8L227.6 347.2ZM315.1 345.4L316.6 345.4L316.3 346.3L319.8 344.8L316.1 343.7L316.5 344.6L315.1 344.7Z"/><path fill="#78aed2" d="M346.8 54.7L348.8 54.1L348.7 55.0L351.8 52.7L348.0 52.6L348.6 53.3L346.5 54.0ZM354.5 78.0L356.6 77.5L356.5 78.4L359.6 76.3L355.8 76.0L356.4 76.7L354.3 77.3ZM369.9 124.7L372.0 124.5L371.7 125.5L375.2 123.9L371.5 122.9L371.9 123.8L369.8 123.9ZM235.1 323.6L235.2 321.5L236.1 321.8L235.0 318.2L233.5 321.7L234.5 321.4L234.4 323.5ZM336.8 337.1L338.9 336.9L338.6 337.8L342.1 336.3L338.4 335.3L338.9 336.1L336.7 336.3Z"/><path fill="#8ac0de" d="M354.1 54.5L356.5 53.7L356.5 54.7L359.5 52.3L355.7 52.3L356.3 53.0L353.9 53.8ZM377.2 124.5L379.7 124.4L379.4 125.3L382.9 123.8L379.2 122.7L379.6 123.6L377.1 123.8Z"/><path fill="#96c6de" d="M361.5 54.4L364.0 53.5L364.0 54.5L367.0 52.1L363.1 52.0L363.8 52.8L361.3 53.6ZM361.6 62.2L364.2 61.3L364.1 62.3L367.1 59.9L363.3 59.9L363.9 60.6L361.4 61.5ZM377.0 108.9L379.7 108.6L379.4 109.5L382.8 107.8L379.1 107.0L379.6 107.8L376.9 108.1ZM377.1 116.7L379.8 116.6L379.5 117.5L383.0 116.1L379.3 114.9L379.7 115.8L377.0 115.9ZM242.6 331.2L242.7 328.6L243.6 329.0L242.6 325.3L241.1 328.8L242.0 328.5L241.8 331.2Z"/><path fill="#badeea" d="M368.9 54.2L371.8 53.1L371.8 54.1L374.8 51.6L370.9 51.7L371.6 52.4L368.6 53.5Z"/><path fill="#cceaf0" d="M376.3 54.0L379.5 52.8L379.5 53.8L382.4 51.3L378.5 51.4L379.2 52.1L376.0 53.3ZM383.6 53.9L386.8 52.6L386.8 53.6L389.7 51.1L385.9 51.2L386.6 51.9L383.3 53.2ZM383.7 61.7L387.0 60.4L387.0 61.4L389.9 58.9L386.1 59.0L386.7 59.7L383.5 61.0ZM376.5 69.7L379.7 68.5L379.7 69.4L382.6 67.0L378.8 67.1L379.4 67.8L376.2 69.0ZM383.8 69.5L387.1 68.3L387.1 69.3L390.0 66.8L386.2 66.9L386.8 67.6L383.6 68.8Z"/><path fill="#d2eaf6" d="M391.0 53.7L394.4 52.3L394.4 53.3L397.2 50.7L393.4 50.9L394.1 51.6L390.7 53.0ZM376.4 61.9L379.7 60.6L379.7 61.5L382.6 59.0L378.8 59.2L379.4 59.9L376.1 61.1ZM376.7 85.4L380.1 84.2L380.1 85.2L383.1 82.8L379.3 82.7L379.9 83.5L376.5 84.6ZM384.1 85.2L387.5 84.0L387.4 85.0L390.4 82.6L386.6 82.6L387.2 83.3L383.8 84.5ZM391.6 100.7L395.1 99.6L395.0 100.5L398.0 98.2L394.2 98.1L394.8 98.8L391.4 100.0ZM399.1 108.4L402.6 107.2L402.5 108.1L405.5 105.8L401.7 105.7L402.3 106.4L398.8 107.6Z"/><path fill="#e4f6ea" d="M398.4 53.5L402.2 51.9L402.2 52.8L405.0 50.2L401.2 50.5L401.8 51.2L398.0 52.8ZM398.6 69.2L402.4 67.5L402.4 68.5L405.2 65.9L401.4 66.2L402.1 66.8L398.3 68.5Z"/><path fill="#eaf6ea" d="M405.7 53.4L409.7 51.6L409.7 52.6L412.5 49.9L408.7 50.2L409.4 50.9L405.4 52.7ZM413.1 53.2L417.0 51.5L417.0 52.4L419.8 49.8L416.0 50.1L416.7 50.8L412.8 52.5ZM398.5 61.4L402.4 59.6L402.4 60.6L405.2 57.9L401.4 58.3L402.1 58.9L398.2 60.7ZM413.2 61.0L417.2 59.3L417.2 60.2L420.0 57.6L416.2 57.9L416.8 58.5L412.9 60.3ZM405.9 69.0L409.9 67.3L410.0 68.2L412.7 65.6L408.9 65.9L409.6 66.6L405.6 68.3ZM413.3 68.9L417.2 67.1L417.3 68.1L420.0 65.4L416.2 65.7L416.9 66.4L413.0 68.2ZM398.7 77.0L402.6 75.4L402.6 76.4L405.4 73.8L401.6 74.0L402.3 74.7L398.4 76.3Z"/><path fill="#3c54a2" d="M288.0 63.6L288.1 63.5L288.1 63.8L288.9 62.8L287.7 63.1L287.9 63.3L287.8 63.4ZM296.3 110.4L296.3 110.3L296.5 110.6L296.8 109.4L295.8 110.1L296.1 110.2L296.0 110.3ZM303.6 110.2L303.6 110.2L303.7 110.4L304.3 109.5L303.2 109.9L303.5 110.0L303.4 110.1ZM296.4 118.2L296.4 118.1L296.6 118.4L296.8 117.3L296.0 118.0L296.3 118.0L296.2 118.1ZM303.0 117.4h1.2v1.2h-1.2ZM311.0 117.9L311.2 117.9L311.2 118.2L312.0 117.2L310.8 117.5L311.0 117.7L310.9 117.7ZM296.6 126.0L296.6 125.9L296.8 126.1L296.8 125.0L296.1 125.9L296.4 125.9L296.3 126.0ZM303.9 125.9L303.9 125.8L304.1 126.0L304.3 125.1L303.5 125.6L303.8 125.7L303.7 125.8ZM311.2 125.8L311.3 125.7L311.4 126.0L312.0 124.9L310.9 125.4L311.1 125.5L311.0 125.6ZM304.0 133.7L304.0 133.6L304.3 133.6L303.9 132.6L303.6 133.7L303.8 133.6L303.8 133.7ZM311.4 133.5L311.4 133.4L311.6 133.4L311.1 132.5L310.9 133.6L311.1 133.4L311.2 133.5ZM318.7 133.4L318.7 133.3L318.9 133.5L319.2 132.5L318.3 133.1L318.6 133.2L318.5 133.3ZM304.2 141.4L304.1 141.3L304.5 141.3L303.5 140.4L303.7 141.7L303.9 141.5L304.0 141.6ZM318.8 141.1L318.8 141.0L319.1 141.1L318.5 140.2L318.4 141.2L318.6 141.1L318.6 141.2ZM304.3 149.3L304.3 149.2L304.6 149.2L303.8 148.2L303.8 149.5L304.1 149.3L304.1 149.4ZM311.7 149.1L311.6 149.0L311.9 149.0L311.0 148.1L311.2 149.4L311.4 149.1L311.4 149.2ZM319.0 149.0L319.0 148.9L319.2 149.0L318.8 148.0L318.5 149.0L318.8 148.9L318.8 149.0ZM326.3 148.9L326.4 148.9L326.5 149.1L327.1 148.1L325.9 148.5L326.2 148.7L326.1 148.7ZM304.5 157.1L304.4 157.0L304.8 157.0L304.0 156.1L304.0 157.3L304.2 157.1L304.2 157.2ZM311.8 157.0L311.8 156.9L312.1 157.0L311.6 155.9L311.3 157.1L311.6 156.9L311.6 157.0ZM319.1 156.9L319.2 156.8L319.4 156.9L319.3 155.8L318.7 156.7L318.9 156.7L318.9 156.8ZM326.5 156.7L326.5 156.6L326.7 156.9L327.0 155.7L326.0 156.4L326.3 156.5L326.2 156.6ZM304.6 164.9L304.5 164.8L304.9 164.8L303.8 164.0L304.2 165.3L304.3 165.0L304.4 165.1ZM311.9 164.8L311.9 164.7L312.2 164.8L311.7 163.8L311.5 164.9L311.7 164.8L311.7 164.9ZM319.3 164.7L319.3 164.6L319.5 164.8L319.4 163.6L318.8 164.6L319.1 164.5L319.0 164.6ZM326.6 164.5L326.6 164.4L326.9 164.6L326.9 163.4L326.1 164.4L326.4 164.3L326.4 164.5ZM282.8 173.3L282.8 173.2L283.1 173.2L282.2 172.3L282.3 173.5L282.5 173.3L282.6 173.4ZM312.1 172.6L312.1 172.5L312.3 172.6L311.7 171.7L311.6 172.8L311.8 172.6L311.9 172.7ZM319.4 172.5L319.4 172.4L319.7 172.6L319.5 171.4L318.9 172.4L319.2 172.4L319.2 172.5ZM326.7 172.4L326.8 172.3L327.0 172.4L326.9 171.2L326.2 172.2L326.5 172.2L326.5 172.3ZM334.1 172.2L334.1 172.1L334.4 172.2L334.2 171.0L333.5 172.1L333.8 172.0L333.8 172.1ZM224.4 182.6L224.4 182.5L224.7 182.7L224.6 181.5L223.9 182.5L224.2 182.4L224.2 182.5ZM231.7 182.5L231.8 182.4L232.0 182.6L232.3 181.4L231.3 182.2L231.6 182.2L231.5 182.3ZM239.1 182.3L239.1 182.2L239.3 182.3L239.2 181.2L238.6 182.1L238.9 182.1L238.8 182.2ZM246.4 182.0L246.3 181.9L246.6 181.8L245.7 181.0L245.9 182.3L246.1 182.0L246.1 182.1ZM268.3 181.5L268.3 181.4L268.6 181.5L268.0 180.4L267.8 181.6L268.1 181.5L268.1 181.6ZM275.6 181.4L275.6 181.3L275.9 181.3L275.5 180.3L275.1 181.4L275.4 181.3L275.4 181.4ZM283.0 181.2L282.9 181.1L283.2 181.1L282.6 180.2L282.5 181.3L282.7 181.1L282.7 181.2ZM290.3 180.9L290.2 180.9L290.5 180.8L289.5 180.1L289.8 181.3L290.0 181.0L290.1 181.1ZM304.9 180.6L304.8 180.5L305.1 180.4L304.1 179.7L304.5 180.9L304.6 180.7L304.7 180.8ZM312.2 180.5L312.2 180.4L312.5 180.4L311.9 179.5L311.8 180.6L312.0 180.4L312.0 180.5ZM319.6 180.4L319.6 180.3L319.8 180.4L319.6 179.3L319.1 180.3L319.3 180.2L319.3 180.3ZM326.9 180.2L326.9 180.1L327.2 180.3L327.1 179.0L326.3 180.1L326.7 180.0L326.6 180.1ZM334.2 180.0L334.2 179.9L334.5 180.1L334.4 178.8L333.7 179.9L334.0 179.9L333.9 180.0ZM407.4 178.3L407.4 178.3L407.6 178.5L407.8 177.4L406.9 178.1L407.2 178.1L407.2 178.2ZM414.7 178.2L414.7 178.1L414.9 178.3L415.0 177.2L414.3 178.0L414.5 178.0L414.5 178.1ZM144.2 192.3L144.1 192.2L144.4 192.2L143.8 191.2L143.6 192.4L143.9 192.2L143.9 192.3ZM151.5 192.1L151.4 192.0L151.7 192.0L151.0 191.1L151.0 192.3L151.2 192.1L151.2 192.2ZM158.8 191.9L158.7 191.8L159.0 191.8L158.2 191.0L158.3 192.1L158.5 191.9L158.6 192.0ZM166.1 191.7L166.0 191.6L166.3 191.6L165.5 190.9L165.6 192.0L165.8 191.8L165.9 191.8ZM173.4 191.6L173.3 191.5L173.6 191.4L172.8 190.7L173.0 191.8L173.1 191.6L173.2 191.7ZM180.7 191.4L180.7 191.3L180.9 191.3L180.2 190.5L180.3 191.6L180.5 191.4L180.5 191.5ZM188.0 191.3L188.0 191.2L188.3 191.2L187.7 190.3L187.6 191.3L187.8 191.2L187.8 191.3ZM195.3 191.1L195.3 191.0L195.6 191.1L195.2 190.1L194.9 191.1L195.1 191.0L195.1 191.1ZM202.7 190.9L202.7 190.8L202.9 190.9L202.6 189.9L202.2 190.9L202.4 190.8L202.4 190.9ZM210.0 190.8L210.0 190.7L210.2 190.8L210.0 189.7L209.5 190.7L209.8 190.6L209.7 190.7ZM217.3 190.7L217.3 190.6L217.5 190.8L217.8 189.6L216.8 190.3L217.1 190.4L217.1 190.5ZM246.5 190.0L246.6 189.9L246.8 190.2L247.2 189.0L246.1 189.6L246.4 189.7L246.3 189.8ZM253.8 189.8L253.9 189.7L254.1 189.8L254.1 188.7L253.4 189.6L253.7 189.6L253.6 189.7ZM261.2 189.6L261.2 189.5L261.4 189.7L261.4 188.5L260.7 189.4L261.0 189.4L260.9 189.5ZM268.5 189.4L268.5 189.3L268.7 189.5L268.8 188.3L268.0 189.2L268.3 189.2L268.3 189.3ZM275.8 189.2L275.8 189.1L276.0 189.3L276.0 188.2L275.3 189.1L275.6 189.1L275.6 189.2ZM282.4 188.4h1.2v1.2h-1.2ZM297.0 188.1h1.2v1.2h-1.2ZM305.0 188.5L305.0 188.4L305.3 188.4L304.7 187.6L304.6 188.6L304.8 188.5L304.9 188.5ZM312.4 188.3L312.4 188.3L312.6 188.3L312.3 187.4L311.9 188.3L312.2 188.3L312.2 188.3ZM319.7 188.2L319.7 188.1L319.9 188.2L319.8 187.2L319.2 188.1L319.5 188.1L319.5 188.2ZM327.0 188.0L327.0 187.9L327.3 188.1L327.2 187.0L326.5 187.9L326.8 187.9L326.8 188.0ZM334.3 187.9L334.4 187.8L334.6 188.0L334.6 186.7L333.8 187.7L334.1 187.7L334.1 187.8ZM400.2 186.4L400.2 186.3L400.4 186.5L400.7 185.4L399.7 186.1L400.0 186.1L400.0 186.2ZM407.5 186.2L407.5 186.1L407.7 186.2L407.8 185.3L407.1 186.0L407.3 186.0L407.3 186.1ZM414.1 185.3h1.2v1.2h-1.2ZM144.4 200.1L144.3 200.0L144.6 200.1L144.1 199.1L143.9 200.2L144.1 200.1L144.1 200.2ZM151.6 200.0L151.6 199.9L151.9 199.9L151.3 199.1L151.2 200.1L151.4 199.9L151.5 200.0ZM158.3 199.2h1.2v1.2h-1.2ZM187.5 198.5h1.2v1.2h-1.2ZM195.5 199.0L195.6 198.9L195.7 199.2L196.0 198.1L195.1 198.7L195.4 198.8L195.3 198.9ZM275.9 197.1L276.0 197.0L276.1 197.3L276.5 196.2L275.5 196.8L275.8 196.9L275.7 197.0ZM311.8 195.6h1.2v1.2h-1.2ZM319.1 195.4h1.2v1.2h-1.2ZM334.5 195.7L334.5 195.6L334.7 195.8L334.7 194.7L334.0 195.5L334.3 195.5L334.2 195.6ZM341.8 195.5L341.8 195.4L342.0 195.7L342.2 194.4L341.3 195.3L341.6 195.3L341.5 195.4ZM407.6 194.0L407.6 193.9L407.8 194.1L407.9 193.1L407.2 193.8L407.4 193.8L407.4 193.9ZM414.2 193.2h1.2v1.2h-1.2ZM304.6 203.6h1.2v1.2h-1.2ZM311.9 203.4h1.2v1.2h-1.2ZM326.6 203.1h1.2v1.2h-1.2ZM333.9 202.9h1.2v1.2h-1.2ZM341.9 203.4L341.9 203.3L342.1 203.5L342.3 202.4L341.5 203.2L341.7 203.2L341.7 203.3ZM407.7 201.8L407.7 201.7L407.9 201.9L408.1 201.0L407.3 201.6L407.6 201.6L407.5 201.7ZM283.5 212.6L283.6 212.5L283.7 212.7L284.0 211.8L283.2 212.4L283.4 212.4L283.4 212.5ZM304.8 211.4h1.2v1.2h-1.2ZM312.1 211.3h1.2v1.2h-1.2ZM326.7 210.9h1.2v1.2h-1.2ZM334.0 210.7h1.2v1.2h-1.2ZM342.0 211.2L342.1 211.1L342.2 211.3L342.3 210.3L341.6 211.0L341.9 211.0L341.8 211.1ZM291.0 220.2L291.1 220.1L291.3 220.3L291.2 219.1L290.5 220.1L290.8 220.1L290.8 220.2ZM298.3 220.1L298.4 220.0L298.6 220.1L298.4 219.0L297.8 220.0L298.1 219.9L298.1 220.0ZM305.6 219.9L305.6 219.8L305.9 219.9L305.7 218.9L305.2 219.8L305.4 219.8L305.4 219.8ZM312.2 219.1h1.2v1.2h-1.2ZM319.5 218.9h1.2v1.2h-1.2ZM334.1 218.6h1.2v1.2h-1.2ZM342.2 219.0L342.2 218.9L342.4 219.1L342.5 218.1L341.7 218.8L342.0 218.9L342.0 218.9ZM313.1 227.5L313.1 227.4L313.3 227.6L313.1 226.5L312.6 227.5L312.9 227.4L312.9 227.5ZM319.7 226.7h1.2v1.2h-1.2ZM327.0 226.6h1.2v1.2h-1.2ZM335.0 227.0L335.0 226.9L335.2 227.1L335.2 226.1L334.6 226.9L334.8 226.9L334.8 227.0ZM320.5 235.2L320.6 235.1L320.8 235.3L320.7 234.1L320.0 235.1L320.3 235.1L320.3 235.2ZM327.8 235.0L327.9 234.9L328.1 235.1L328.0 234.0L327.4 234.9L327.6 234.9L327.6 235.0ZM328.0 242.9L328.0 242.8L328.3 243.0L328.3 241.7L327.5 242.7L327.8 242.7L327.7 242.8ZM291.4 274.5h1.2v1.2h-1.2ZM298.7 274.3h1.2v1.2h-1.2ZM306.7 274.8L306.7 274.7L306.9 274.8L306.9 273.7L306.2 274.6L306.5 274.6L306.4 274.7ZM277.7 283.2L277.7 283.1L278.0 283.2L277.4 282.0L277.1 283.3L277.4 283.2L277.4 283.3ZM284.2 282.5h1.2v1.2h-1.2ZM298.8 282.1h1.2v1.2h-1.2ZM306.8 282.6L306.9 282.6L307.0 282.9L307.6 281.8L306.4 282.2L306.7 282.4L306.6 282.4ZM291.7 290.1h1.2v1.2h-1.2Z"/><path fill="#4e84ba" d="M324.8 63.0L325.6 62.9L325.4 63.8L328.7 61.8L324.9 61.3L325.4 62.1L324.6 62.3ZM339.9 86.2L340.6 86.1L340.4 87.0L343.8 85.2L340.0 84.5L340.5 85.3L339.8 85.4ZM340.1 101.9L341.0 101.8L340.7 102.7L344.1 101.0L340.4 100.2L340.9 101.0L340.0 101.1ZM362.7 132.7L363.4 132.6L363.2 133.5L366.6 131.8L362.8 131.0L363.3 131.8L362.6 131.9ZM198.2 300.8L198.1 300.1L199.0 300.3L197.1 296.9L196.5 300.7L197.3 300.2L197.5 301.0ZM212.8 300.5L212.7 299.8L213.6 300.0L211.9 296.6L211.1 300.3L211.9 299.9L212.0 300.6ZM314.3 298.4L315.2 298.4L314.9 299.3L318.4 297.9L314.8 296.7L315.2 297.6L314.2 297.6ZM321.6 298.2L322.4 298.2L322.1 299.1L325.7 297.7L322.0 296.6L322.4 297.4L321.5 297.5ZM328.8 298.1L329.6 298.0L329.3 298.9L332.8 297.4L329.1 296.4L329.5 297.2L328.8 297.3ZM183.9 309.0L183.7 308.1L184.6 308.3L182.8 304.9L182.1 308.7L182.9 308.2L183.1 309.2ZM242.1 307.7L242.0 306.8L242.9 307.1L241.6 303.5L240.4 307.1L241.3 306.8L241.3 307.7ZM307.6 329.9L308.5 329.9L308.2 330.8L311.7 329.2L308.0 328.2L308.5 329.1L307.5 329.2ZM199.2 340.1L199.0 339.1L200.0 339.3L198.2 335.9L197.4 339.6L198.3 339.2L198.4 340.2ZM184.8 348.3L184.7 347.3L185.6 347.5L183.9 344.1L183.1 347.8L183.9 347.4L184.1 348.4ZM192.1 348.1L192.0 347.2L192.9 347.4L191.2 344.0L190.4 347.7L191.2 347.3L191.3 348.2ZM199.4 347.9L199.3 347.1L200.2 347.3L198.6 343.9L197.6 347.6L198.5 347.2L198.6 348.0ZM213.9 347.6L213.9 346.7L214.8 347.1L213.4 343.5L212.2 347.1L213.1 346.7L213.1 347.6Z"/><path fill="#7eb4d8" d="M346.9 62.5L349.1 61.8L349.0 62.8L352.0 60.5L348.2 60.4L348.8 61.1L346.7 61.8ZM354.6 85.9L356.8 85.4L356.6 86.3L359.9 84.3L356.1 83.8L356.6 84.6L354.4 85.1ZM242.4 323.4L242.6 321.1L243.4 321.5L242.4 317.9L240.9 321.4L241.8 321.1L241.6 323.3ZM235.5 339.2L235.6 337.0L236.5 337.4L235.5 333.7L233.9 337.2L234.9 337.0L234.7 339.2Z"/><path fill="#90c6de" d="M354.3 62.4L356.7 61.5L356.7 62.5L359.7 60.1L355.9 60.1L356.5 60.8L354.0 61.6ZM361.8 70.0L364.2 69.2L364.2 70.2L367.2 67.8L363.4 67.7L364.0 68.5L361.5 69.3ZM384.4 116.5L387.0 116.3L386.8 117.3L390.3 115.7L386.6 114.7L387.0 115.6L384.4 115.8Z"/><path fill="#c0e4f0" d="M369.0 62.0L372.1 60.9L372.1 61.8L375.0 59.4L371.2 59.4L371.8 60.1L368.7 61.3ZM376.6 77.5L379.7 76.5L379.6 77.4L382.6 75.0L378.8 75.0L379.4 75.7L376.3 76.8ZM369.5 93.4L372.6 92.4L372.6 93.3L375.6 91.1L371.8 90.9L372.4 91.6L369.2 92.6Z"/><path fill="#d8f0f6" d="M391.1 61.5L394.6 60.1L394.6 61.1L397.4 58.5L393.6 58.7L394.3 59.4L390.8 60.8ZM391.2 69.4L394.6 68.0L394.7 69.0L397.5 66.4L393.7 66.6L394.4 67.3L390.9 68.7ZM391.3 77.2L394.8 75.9L394.8 76.8L397.7 74.3L393.9 74.4L394.5 75.1L391.0 76.5ZM384.2 93.0L387.7 91.8L387.6 92.8L390.6 90.4L386.8 90.4L387.4 91.1L383.9 92.3Z"/><path fill="#eaf6e4" d="M405.8 61.2L409.9 59.4L409.9 60.3L412.7 57.7L408.8 58.0L409.5 58.7L405.5 60.5ZM406.0 76.9L410.1 75.1L410.2 76.1L413.0 73.5L409.2 73.7L409.8 74.4L405.7 76.2ZM413.4 76.7L417.5 75.0L417.5 75.9L420.3 73.3L416.5 73.6L417.2 74.2L413.1 76.0ZM399.0 100.5L403.3 98.8L403.3 99.8L406.2 97.3L402.4 97.4L403.0 98.1L398.7 99.8Z"/><path fill="#72a8d2" d="M347.0 70.4L349.0 69.8L348.9 70.7L352.0 68.5L348.2 68.3L348.7 69.0L346.8 69.6ZM362.3 109.2L364.3 109.0L364.0 109.9L367.5 108.3L363.8 107.4L364.2 108.2L362.2 108.4ZM336.7 329.2L338.7 329.1L338.4 330.0L341.9 328.5L338.2 327.5L338.6 328.3L336.6 328.4ZM336.9 344.9L338.9 344.7L338.7 345.6L342.2 344.1L338.5 343.1L338.9 344.0L336.9 344.1Z"/><path fill="#8ac0d8" d="M354.4 70.2L356.7 69.4L356.7 70.4L359.7 68.1L355.9 68.0L356.5 68.7L354.2 69.5ZM361.9 77.9L364.2 77.2L364.1 78.1L367.2 75.9L363.4 75.7L364.0 76.4L361.6 77.1ZM362.0 85.7L364.4 85.1L364.2 86.1L367.4 84.0L363.6 83.6L364.2 84.4L361.8 85.0ZM362.1 93.5L364.5 93.0L364.3 94.0L367.6 91.9L363.8 91.5L364.3 92.3L361.9 92.8Z"/><path fill="#b4deea" d="M369.1 69.9L372.0 68.8L372.0 69.8L375.0 67.3L371.2 67.4L371.8 68.1L368.9 69.1ZM369.3 85.5L372.3 84.6L372.3 85.6L375.3 83.3L371.5 83.1L372.1 83.9L369.1 84.8Z"/><path fill="#3c60a8" d="M281.0 79.4L281.1 79.3L281.4 79.6L281.7 77.8L280.3 79.0L280.8 79.1L280.7 79.2ZM303.0 79.0L303.2 78.9L303.2 79.4L304.6 78.1L302.7 78.2L303.0 78.6L302.8 78.6ZM281.2 87.2L281.2 87.0L281.6 87.3L281.5 85.5L280.4 87.0L280.9 86.9L280.8 87.1ZM310.5 86.7L310.6 86.6L310.5 87.1L312.2 86.1L310.3 85.9L310.5 86.3L310.4 86.3ZM281.3 95.0L281.4 94.9L281.7 95.1L281.5 93.4L280.6 94.9L281.0 94.8L281.0 95.0ZM310.6 94.5L310.7 94.5L310.6 94.9L312.2 94.1L310.5 93.7L310.7 94.1L310.5 94.1ZM281.5 102.9L281.5 102.7L281.9 102.9L281.6 101.1L280.7 102.7L281.1 102.6L281.1 102.8ZM310.7 102.3L310.9 102.3L310.8 102.7L312.3 101.7L310.5 101.6L310.8 101.9L310.7 102.0ZM164.6 129.0L164.6 128.8L165.0 128.9L164.1 127.1L163.7 129.1L164.2 128.9L164.2 129.0ZM171.9 128.8L171.9 128.6L172.4 128.8L171.4 127.0L171.0 128.9L171.5 128.7L171.5 128.9ZM179.3 128.7L179.2 128.5L179.7 128.6L178.8 126.8L178.4 128.8L178.8 128.5L178.8 128.7ZM164.8 136.8L164.8 136.6L165.2 136.7L164.2 135.0L163.9 137.0L164.3 136.7L164.4 136.9ZM172.1 136.7L172.1 136.5L172.6 136.6L171.5 134.8L171.2 136.8L171.7 136.6L171.7 136.7ZM179.5 136.5L179.4 136.3L179.9 136.4L178.9 134.6L178.6 136.7L179.0 136.4L179.0 136.6ZM289.4 133.9L289.4 133.8L289.9 133.8L288.7 132.3L288.6 134.2L289.0 133.9L289.1 134.1ZM326.0 133.4L326.2 133.3L326.1 133.8L327.7 132.6L325.8 132.5L326.1 132.9L325.9 133.0ZM157.6 144.8L157.6 144.7L158.1 144.8L157.1 143.1L156.8 145.0L157.2 144.7L157.3 144.9ZM165.0 144.7L164.9 144.5L165.4 144.6L164.4 142.8L164.1 144.8L164.5 144.6L164.6 144.8ZM172.3 144.5L172.3 144.3L172.8 144.4L171.7 142.6L171.4 144.7L171.9 144.4L171.9 144.6ZM179.6 144.3L179.6 144.1L180.1 144.2L179.1 142.5L178.8 144.5L179.2 144.2L179.2 144.4ZM187.0 144.2L186.9 144.0L187.4 144.1L186.4 142.3L186.1 144.3L186.5 144.1L186.6 144.2ZM333.4 141.0L333.6 141.0L333.4 141.4L335.1 140.8L333.4 140.2L333.6 140.6L333.4 140.7ZM340.7 140.8L340.9 140.9L340.7 141.2L342.4 140.8L340.8 140.1L340.9 140.5L340.8 140.5ZM348.1 140.7L348.3 140.7L348.1 141.1L349.9 140.3L348.0 139.8L348.2 140.3L348.1 140.3ZM150.5 152.9L150.5 152.7L150.9 152.8L150.0 151.2L149.7 153.0L150.1 152.8L150.1 152.9ZM157.8 152.7L157.8 152.5L158.3 152.6L157.3 151.0L157.0 152.9L157.4 152.6L157.5 152.8ZM165.2 152.5L165.1 152.3L165.6 152.4L164.6 150.7L164.3 152.7L164.7 152.4L164.8 152.6ZM172.5 152.3L172.5 152.2L173.0 152.2L171.9 150.5L171.6 152.5L172.1 152.3L172.1 152.4ZM179.8 152.2L179.8 152.0L180.3 152.1L179.2 150.4L179.0 152.4L179.4 152.1L179.4 152.3ZM187.2 152.0L187.1 151.8L187.6 151.9L186.6 150.2L186.3 152.2L186.7 151.9L186.8 152.1ZM194.5 151.8L194.5 151.7L195.0 151.7L193.9 150.0L193.6 152.0L194.0 151.7L194.1 151.9ZM289.7 149.6L289.7 149.4L290.2 149.4L288.8 148.0L289.0 149.9L289.3 149.6L289.4 149.8ZM348.3 148.5L348.4 148.4L348.6 148.8L349.4 147.2L347.8 147.9L348.2 148.1L348.1 148.2ZM355.7 148.3L355.8 148.2L356.0 148.7L356.9 147.0L355.1 147.7L355.5 147.9L355.4 148.0ZM158.0 160.5L158.0 160.4L158.4 160.4L157.4 159.0L157.3 160.8L157.6 160.5L157.7 160.6ZM165.3 160.3L165.3 160.2L165.7 160.2L164.6 158.8L164.6 160.6L164.9 160.3L165.0 160.5ZM172.7 160.2L172.6 160.0L173.1 160.0L171.9 158.6L171.9 160.4L172.3 160.1L172.3 160.3ZM180.0 160.0L179.9 159.8L180.4 159.9L179.3 158.5L179.3 160.3L179.6 160.0L179.7 160.1ZM187.3 159.8L187.3 159.7L187.7 159.7L186.7 158.3L186.6 160.1L186.9 159.8L187.0 159.9ZM194.7 159.7L194.6 159.5L195.1 159.5L194.0 158.1L193.9 159.9L194.2 159.6L194.3 159.8ZM202.0 159.5L201.9 159.3L202.4 159.3L201.2 157.8L201.2 159.8L201.6 159.5L201.6 159.6ZM209.3 159.3L209.3 159.1L209.7 159.2L208.5 157.7L208.5 159.6L208.9 159.3L208.9 159.5ZM216.6 159.2L216.6 159.0L217.1 159.0L215.9 157.5L215.8 159.4L216.2 159.1L216.3 159.3ZM224.0 159.0L223.9 158.8L224.4 158.9L223.4 157.3L223.2 159.2L223.6 158.9L223.6 159.1ZM231.3 158.8L231.3 158.7L231.7 158.8L230.9 157.1L230.5 159.0L230.9 158.7L230.9 158.9ZM238.6 158.7L238.6 158.5L239.0 158.6L238.1 157.0L237.8 158.8L238.2 158.6L238.2 158.7ZM245.9 158.5L245.9 158.3L246.4 158.3L245.1 156.8L245.1 158.8L245.5 158.4L245.6 158.6ZM253.3 158.3L253.2 158.1L253.7 158.1L252.4 156.7L252.5 158.6L252.8 158.3L252.9 158.4ZM260.6 158.1L260.5 158.0L261.0 158.0L259.8 156.5L259.8 158.4L260.2 158.1L260.2 158.3ZM267.9 158.0L267.9 157.8L268.3 157.8L267.2 156.3L267.1 158.2L267.5 157.9L267.6 158.1ZM275.2 157.8L275.2 157.6L275.6 157.7L274.5 156.2L274.5 158.1L274.8 157.8L274.9 157.9ZM282.6 157.6L282.5 157.5L283.0 157.5L281.8 156.1L281.8 157.9L282.2 157.6L282.2 157.8ZM341.2 156.4L341.2 156.3L341.5 156.7L342.0 155.0L340.5 156.0L340.9 156.1L340.9 156.2ZM348.5 156.2L348.6 156.1L348.9 156.5L349.2 154.5L347.7 155.9L348.2 155.9L348.1 156.1ZM355.8 156.1L355.9 155.9L356.2 156.3L356.7 154.4L355.1 155.6L355.6 155.7L355.5 155.9ZM172.8 168.0L172.8 167.9L173.2 167.8L171.8 166.7L172.2 168.4L172.5 168.0L172.6 168.2ZM202.1 167.3L202.0 167.2L202.5 167.1L201.1 166.0L201.5 167.7L201.7 167.4L201.8 167.5ZM209.5 167.1L209.4 167.0L209.8 166.8L208.2 165.9L208.8 167.6L209.1 167.2L209.2 167.3ZM216.8 167.0L216.7 166.8L217.1 166.7L215.8 165.6L216.1 167.4L216.4 167.0L216.5 167.2ZM348.6 164.1L348.7 163.9L349.0 164.3L349.3 162.4L347.9 163.7L348.4 163.7L348.3 163.9ZM355.9 163.9L356.0 163.8L356.3 164.2L356.8 162.3L355.2 163.5L355.7 163.6L355.6 163.7ZM173.0 175.8L172.9 175.7L173.4 175.6L171.9 174.6L172.4 176.3L172.7 175.9L172.8 176.0ZM202.3 175.1L202.2 175.0L202.6 174.9L201.1 173.9L201.7 175.6L201.9 175.2L202.0 175.4ZM209.6 174.9L209.5 174.8L210.0 174.6L208.3 173.8L209.0 175.5L209.2 175.1L209.3 175.2ZM217.0 174.8L216.9 174.7L217.3 174.5L215.8 173.6L216.3 175.3L216.6 174.9L216.7 175.0ZM253.5 173.9L253.4 173.8L253.8 173.6L252.1 173.0L253.0 174.5L253.2 174.1L253.3 174.2ZM356.1 171.8L356.2 171.6L356.4 172.0L356.9 170.3L355.4 171.3L355.9 171.4L355.8 171.5ZM407.3 170.6L407.4 170.5L407.6 170.9L408.3 169.2L406.7 170.0L407.1 170.2L407.0 170.3ZM414.6 170.4L414.7 170.3L414.9 170.7L415.6 169.0L414.0 169.9L414.5 170.0L414.4 170.2ZM224.6 190.6L224.7 190.5L224.8 190.9L226.0 189.6L224.2 189.9L224.5 190.2L224.4 190.3ZM239.2 190.2L239.3 190.2L239.4 190.6L240.6 189.3L238.8 189.5L239.2 189.8L239.0 189.9ZM217.4 198.6L217.6 198.6L217.6 199.1L219.2 197.8L217.1 197.8L217.5 198.2L217.3 198.2ZM261.3 197.5L261.5 197.4L261.6 197.9L262.6 196.4L260.9 196.9L261.2 197.1L261.1 197.2ZM268.8 205.2L268.9 205.1L269.1 205.6L270.2 204.0L268.3 204.5L268.7 204.8L268.6 204.9ZM276.3 212.9L276.4 212.8L276.5 213.2L277.4 211.6L275.8 212.3L276.2 212.5L276.0 212.6ZM276.4 220.7L276.6 220.6L276.7 221.0L277.7 219.3L275.9 220.1L276.3 220.3L276.2 220.4ZM218.1 230.0L218.3 229.9L218.3 230.4L219.7 229.0L217.8 229.2L218.1 229.5L218.0 229.6ZM254.7 229.1L254.8 229.0L255.0 229.5L256.1 227.7L254.1 228.4L254.6 228.6L254.4 228.8ZM262.0 228.9L262.1 228.7L262.4 229.2L263.0 227.4L261.4 228.3L261.8 228.5L261.7 228.6ZM269.3 228.7L269.4 228.5L269.7 228.9L270.2 227.1L268.6 228.2L269.1 228.3L269.0 228.5ZM276.6 228.5L276.7 228.3L277.0 228.7L277.3 226.9L275.9 228.1L276.4 228.2L276.3 228.3ZM291.2 228.0L291.2 227.9L291.7 228.0L291.0 226.4L290.5 228.1L290.9 227.9L290.9 228.1ZM232.9 237.4L233.1 237.3L233.2 237.8L234.2 236.2L232.5 236.8L232.8 237.0L232.7 237.1ZM240.3 237.2L240.4 237.1L240.5 237.5L241.3 236.0L239.7 236.7L240.1 236.9L240.0 237.0ZM254.9 236.8L255.0 236.7L255.2 237.0L255.5 235.3L254.2 236.5L254.6 236.5L254.6 236.7ZM262.2 236.6L262.2 236.5L262.6 236.7L262.5 234.9L261.4 236.4L261.9 236.4L261.8 236.5ZM269.5 236.4L269.5 236.3L269.9 236.5L269.6 234.7L268.7 236.3L269.2 236.2L269.1 236.4ZM276.8 236.3L276.8 236.1L277.2 236.4L277.0 234.6L276.0 236.1L276.5 236.0L276.4 236.2ZM284.1 236.1L284.1 235.9L284.5 236.0L283.9 234.4L283.3 236.1L283.7 235.9L283.7 236.1ZM291.4 235.9L291.4 235.7L291.8 235.8L291.0 234.1L290.6 236.0L291.0 235.7L291.0 235.9ZM298.7 235.7L298.7 235.5L299.1 235.6L298.3 234.0L297.9 235.8L298.3 235.6L298.3 235.7ZM225.9 245.3L225.9 245.1L226.3 245.2L225.4 243.6L225.1 245.4L225.5 245.2L225.5 245.3ZM233.2 245.1L233.2 245.0L233.6 245.1L232.9 243.5L232.4 245.2L232.8 245.0L232.8 245.1ZM247.8 244.8L247.8 244.6L248.2 244.8L247.6 243.2L247.0 244.8L247.4 244.6L247.4 244.8ZM255.1 244.6L255.1 244.4L255.5 244.6L254.9 242.9L254.3 244.6L254.7 244.4L254.7 244.6ZM262.4 244.4L262.4 244.3L262.8 244.5L262.3 242.7L261.6 244.4L262.0 244.2L262.0 244.4ZM269.7 244.3L269.7 244.1L270.1 244.3L269.7 242.5L268.9 244.2L269.3 244.1L269.3 244.2ZM277.0 244.1L277.0 243.9L277.4 244.1L277.0 242.4L276.2 244.0L276.6 243.9L276.6 244.0ZM284.3 243.9L284.3 243.7L284.7 243.9L284.1 242.2L283.5 243.9L283.9 243.7L283.9 243.9ZM291.6 243.7L291.5 243.5L292.0 243.7L291.2 242.0L290.8 243.8L291.2 243.6L291.2 243.7ZM298.8 243.5L298.8 243.4L299.2 243.5L298.5 241.9L298.1 243.6L298.5 243.4L298.5 243.6ZM262.5 252.2L262.5 252.0L263.0 252.1L261.8 250.5L261.7 252.5L262.1 252.1L262.2 252.3ZM269.8 252.1L269.8 251.9L270.2 252.1L269.6 250.4L269.0 252.1L269.5 251.9L269.5 252.1ZM270.0 259.9L269.9 259.7L270.4 259.8L269.4 258.2L269.2 260.1L269.6 259.8L269.6 260.0ZM270.1 267.7L270.1 267.6L270.5 267.6L269.5 266.1L269.4 267.9L269.7 267.7L269.8 267.8ZM263.0 275.7L262.9 275.5L263.4 275.5L262.1 274.1L262.2 276.1L262.6 275.7L262.7 275.9ZM270.3 275.5L270.2 275.4L270.7 275.4L269.5 274.0L269.6 275.8L269.9 275.5L269.9 275.7ZM255.9 283.7L255.8 283.5L256.3 283.5L255.0 282.1L255.1 284.1L255.5 283.7L255.5 283.9ZM263.2 283.5L263.1 283.4L263.6 283.3L262.1 282.0L262.4 283.9L262.7 283.6L262.8 283.7ZM270.5 283.4L270.4 283.2L270.8 283.2L269.6 281.9L269.7 283.7L270.0 283.4L270.1 283.5ZM314.1 282.6L314.2 282.5L314.2 283.0L315.7 281.6L313.7 281.8L314.1 282.1L313.9 282.2ZM270.8 299.1L270.8 299.0L271.2 299.2L270.8 297.4L270.0 299.0L270.4 298.9L270.4 299.1ZM278.2 306.9L278.3 306.8L278.5 307.2L279.2 305.5L277.6 306.4L278.0 306.5L277.9 306.6ZM285.4 306.8L285.5 306.7L285.5 307.1L286.8 305.9L285.1 306.1L285.4 306.4L285.2 306.4ZM292.6 306.6L292.8 306.5L292.7 307.0L294.3 306.0L292.4 305.8L292.7 306.2L292.5 306.2ZM285.5 314.6L285.7 314.5L285.7 315.0L287.1 313.9L285.3 313.9L285.6 314.2L285.4 314.3ZM292.8 314.4L292.9 314.4L292.9 314.8L294.4 313.9L292.6 313.7L292.9 314.0L292.7 314.1Z"/><path fill="#4878b4" d="M325.1 78.7L325.4 78.6L325.2 79.5L328.2 77.6L324.7 77.2L325.2 77.9L324.9 78.0ZM229.9 88.5L230.0 88.2L230.6 88.8L231.0 85.3L228.5 87.8L229.4 87.9L229.2 88.1ZM332.5 86.4L332.9 86.3L332.6 87.2L335.9 85.5L332.3 84.8L332.8 85.6L332.4 85.6ZM230.1 96.3L230.2 96.0L230.8 96.7L231.2 93.0L228.6 95.6L229.5 95.7L229.4 96.0ZM332.6 94.2L333.0 94.2L332.7 95.0L336.0 93.5L332.5 92.6L332.9 93.4L332.6 93.5ZM332.8 102.0L333.1 102.0L332.9 102.9L336.2 101.3L332.6 100.4L333.0 101.2L332.7 101.3ZM332.9 109.9L333.3 109.8L333.0 110.8L336.4 109.1L332.7 108.2L333.2 109.1L332.8 109.1ZM325.7 117.9L326.0 117.8L325.7 118.7L329.0 117.3L325.6 116.3L326.0 117.1L325.6 117.1ZM333.0 117.7L333.4 117.7L333.1 118.6L336.5 117.0L332.9 116.1L333.3 116.9L333.0 117.0ZM355.3 132.9L355.7 132.8L355.4 133.7L358.7 132.1L355.1 131.3L355.6 132.1L355.2 132.1ZM414.2 131.5L414.5 131.3L414.6 132.3L417.2 129.5L413.4 130.0L414.1 130.6L413.8 130.8ZM232.2 206.3L232.5 206.3L232.2 207.1L235.5 205.7L232.1 204.7L232.4 205.5L232.1 205.6ZM219.8 292.5L219.8 292.2L220.6 292.3L218.9 289.3L218.3 292.7L219.1 292.3L219.1 292.6ZM227.1 292.3L227.1 292.0L227.9 292.1L226.2 289.1L225.6 292.6L226.4 292.1L226.4 292.4ZM241.9 299.8L241.8 299.5L242.7 299.7L241.2 296.4L240.3 299.9L241.1 299.5L241.1 299.9ZM249.3 307.5L249.3 307.2L250.1 307.6L249.2 304.2L247.8 307.4L248.6 307.1L248.6 307.5ZM307.3 314.3L307.7 314.3L307.4 315.2L310.9 313.6L307.2 312.6L307.6 313.5L307.2 313.5ZM307.5 322.1L307.8 322.1L307.5 323.0L311.0 321.4L307.3 320.5L307.7 321.3L307.4 321.3ZM257.1 330.9L257.2 330.6L257.9 331.2L257.7 327.5L255.5 330.5L256.4 330.4L256.3 330.7ZM257.2 338.8L257.4 338.4L258.1 338.9L257.8 335.1L255.6 338.3L256.6 338.2L256.5 338.6ZM300.5 338.0L300.9 337.9L300.7 338.8L303.9 336.9L300.2 336.3L300.7 337.1L300.4 337.2ZM300.7 345.8L301.0 345.7L300.8 346.7L304.1 344.7L300.3 344.2L300.9 345.0L300.5 345.0Z"/><path fill="#6096c6" d="M347.1 78.2L348.8 77.8L348.6 78.7L351.8 76.6L348.0 76.3L348.6 77.0L346.9 77.5ZM227.3 300.2L227.2 298.5L228.1 298.8L226.7 295.3L225.6 299.0L226.5 298.6L226.6 300.2ZM322.1 329.6L323.8 329.5L323.5 330.4L327.0 329.0L323.4 327.9L323.7 328.7L322.1 328.8Z"/><path fill="#a8d2e4" d="M369.2 77.7L372.0 76.8L371.9 77.8L375.0 75.4L371.1 75.3L371.8 76.1L369.0 77.0Z"/><path fill="#c6e4f0" d="M384.0 77.4L387.2 76.2L387.1 77.2L390.1 74.7L386.3 74.8L386.9 75.5L383.7 76.6ZM376.9 101.0L380.2 100.1L380.1 101.0L383.2 98.8L379.4 98.6L380.0 99.3L376.7 100.3ZM384.3 100.9L387.5 99.9L387.4 100.9L390.5 98.6L386.7 98.4L387.3 99.2L384.1 100.1Z"/><path fill="#669cc6" d="M347.3 86.0L349.0 85.7L348.8 86.6L352.1 84.6L348.3 84.1L348.8 84.9L347.1 85.3ZM347.5 101.7L349.2 101.5L349.0 102.4L352.4 100.6L348.6 99.9L349.1 100.7L347.4 100.9ZM228.2 339.4L228.3 337.7L229.2 338.1L228.1 334.4L226.6 337.9L227.5 337.6L227.4 339.4ZM235.6 347.1L235.8 345.4L236.7 345.8L235.7 342.1L234.1 345.6L235.0 345.3L234.9 347.0ZM242.9 346.9L243.1 345.2L243.9 345.7L243.0 341.9L241.4 345.4L242.3 345.1L242.1 346.8Z"/><path fill="#def0f6" d="M391.4 85.0L395.1 83.7L395.1 84.6L398.0 82.2L394.2 82.2L394.8 82.9L391.2 84.3ZM376.8 93.2L380.5 91.9L380.4 92.9L383.4 90.5L379.6 90.5L380.2 91.2L376.6 92.5ZM391.5 92.9L395.2 91.5L395.2 92.5L398.2 90.1L394.4 90.1L395.0 90.8L391.3 92.1Z"/><path fill="#f0f6de" d="M398.8 84.9L403.2 83.1L403.2 84.0L406.0 81.5L402.2 81.7L402.9 82.4L398.5 84.1Z"/><path fill="#f0fcd8" d="M406.1 84.7L410.9 82.7L410.9 83.7L413.7 81.1L409.9 81.3L410.6 82.0L405.8 84.0ZM413.5 84.5L418.1 82.6L418.1 83.6L420.9 81.0L417.1 81.2L417.8 81.9L413.2 83.8ZM398.9 92.7L403.5 90.8L403.5 91.7L406.4 89.2L402.6 89.4L403.2 90.1L398.6 92.0ZM406.4 100.4L411.1 98.4L411.1 99.4L413.9 96.8L410.1 97.0L410.8 97.7L406.1 99.6ZM413.7 100.2L418.3 98.3L418.3 99.3L421.1 96.7L417.3 96.9L418.0 97.6L413.4 99.5Z"/><path fill="#6ca2cc" d="M347.4 93.9L349.2 93.5L349.1 94.5L352.4 92.5L348.6 91.9L349.1 92.8L347.2 93.1ZM355.1 117.2L356.9 117.1L356.6 118.0L360.1 116.5L356.5 115.5L356.9 116.3L355.0 116.4ZM362.4 117.0L364.3 116.9L364.0 117.8L367.5 116.2L363.8 115.2L364.2 116.1L362.3 116.3ZM234.8 307.8L234.7 306.0L235.6 306.3L234.2 302.7L233.1 306.4L233.9 306.0L234.0 307.9ZM329.1 313.7L330.9 313.7L330.6 314.6L334.2 313.2L330.5 312.0L330.9 312.9L329.1 313.0ZM228.0 331.6L228.1 329.7L229.0 330.1L227.9 326.5L226.4 330.0L227.3 329.7L227.3 331.5Z"/><path fill="#84bad8" d="M354.7 93.7L357.1 93.2L356.9 94.2L360.2 92.2L356.4 91.7L356.9 92.5L354.6 92.9Z"/><path fill="#f6ffd2" d="M406.3 92.5L411.2 90.4L411.2 91.4L414.0 88.8L410.2 89.0L410.9 89.7L406.0 91.8Z"/><path fill="#f0ffd8" d="M413.6 92.4L418.4 90.4L418.4 91.3L421.2 88.7L417.4 88.9L418.1 89.6L413.3 91.6Z"/><path fill="#72aed2" d="M354.8 101.5L356.9 101.2L356.7 102.2L360.0 100.4L356.3 99.6L356.8 100.5L354.7 100.8ZM227.7 315.9L227.6 313.8L228.5 314.1L227.1 310.6L226.0 314.2L226.8 313.8L226.9 315.9ZM329.2 321.6L331.3 321.5L331.0 322.4L334.6 321.1L330.9 319.9L331.3 320.7L329.2 320.8ZM249.8 331.0L250.0 329.0L250.9 329.4L250.0 325.7L248.3 329.2L249.3 328.9L249.1 331.0ZM344.1 336.9L346.1 336.7L345.8 337.6L349.3 336.1L345.6 335.1L346.0 335.9L344.0 336.1Z"/><path fill="#7eb4d2" d="M362.2 101.4L364.4 101.0L364.2 101.9L367.5 100.1L363.7 99.4L364.2 100.2L362.1 100.6ZM227.5 308.0L227.4 305.8L228.3 306.1L226.9 302.6L225.8 306.2L226.6 305.8L226.7 308.0Z"/><path fill="#a2d2e4" d="M369.6 101.2L372.3 100.5L372.2 101.5L375.4 99.4L371.6 99.0L372.2 99.8L369.4 100.5Z"/><path fill="#66a2cc" d="M347.6 109.5L349.4 109.4L349.1 110.3L352.6 108.8L348.9 107.8L349.3 108.7L347.5 108.8ZM220.4 316.0L220.3 314.2L221.2 314.5L219.8 311.0L218.7 314.7L219.6 314.3L219.6 316.1ZM235.0 315.7L234.9 313.9L235.8 314.2L234.5 310.6L233.3 314.2L234.2 313.9L234.2 315.7ZM250.0 338.9L250.2 337.1L251.0 337.5L250.2 333.8L248.5 337.2L249.4 337.0L249.2 338.8ZM329.7 345.1L331.5 344.9L331.2 345.8L334.7 344.3L331.0 343.3L331.4 344.2L329.6 344.3Z"/><path fill="#6ca8cc" d="M354.9 109.4L356.9 109.2L356.6 110.1L360.1 108.6L356.4 107.6L356.8 108.4L354.9 108.6ZM220.2 308.2L220.1 306.3L221.1 306.6L219.6 303.0L218.5 306.7L219.4 306.3L219.5 308.2ZM343.9 329.0L345.9 328.9L345.6 329.8L349.1 328.3L345.4 327.3L345.8 328.1L343.9 328.3ZM329.5 337.2L331.5 337.1L331.2 338.0L334.7 336.5L331.0 335.5L331.4 336.3L329.5 336.5ZM344.2 344.7L346.1 344.5L345.9 345.5L349.4 343.9L345.7 342.9L346.1 343.8L344.1 343.9Z"/><path fill="#8abad8" d="M369.6 109.0L372.0 108.7L371.8 109.7L375.2 107.9L371.5 107.1L371.9 108.0L369.5 108.3ZM369.7 116.9L372.2 116.7L371.9 117.6L375.4 116.1L371.7 115.1L372.1 115.9L369.7 116.1ZM235.3 331.4L235.5 329.0L236.3 329.4L235.3 325.7L233.8 329.2L234.7 328.9L234.5 331.3ZM242.7 339.1L242.9 336.7L243.8 337.1L242.8 333.4L241.2 336.9L242.1 336.6L242.0 339.0Z"/><path fill="#9ccce4" d="M384.3 108.7L387.1 108.3L386.9 109.2L390.2 107.4L386.5 106.7L387.0 107.5L384.2 107.9Z"/><path fill="#aed8ea" d="M391.7 108.5L394.6 107.8L394.5 108.8L397.7 106.7L393.9 106.3L394.5 107.1L391.5 107.8Z"/><path fill="#e4f6f0" d="M413.8 108.0L417.6 106.5L417.6 107.5L420.5 104.9L416.6 105.1L417.3 105.8L413.5 107.3Z"/><path fill="#72a8cc" d="M347.7 117.4L349.7 117.4L349.3 118.2L352.9 116.9L349.3 115.7L349.7 116.6L347.7 116.6ZM336.5 321.4L338.5 321.3L338.2 322.2L341.7 320.8L338.1 319.7L338.5 320.5L336.5 320.6ZM329.4 329.4L331.3 329.3L331.0 330.2L334.6 328.8L330.9 327.7L331.3 328.5L329.3 328.6Z"/><path fill="#5a90c0" d="M362.5 124.9L364.1 124.7L363.8 125.6L367.3 124.0L363.6 123.1L364.0 124.0L362.5 124.1ZM414.0 123.7L415.5 123.1L415.5 124.0L418.3 121.5L414.5 121.7L415.2 122.4L413.7 123.0ZM220.6 323.9L220.5 322.4L221.4 322.7L220.0 319.1L218.9 322.8L219.8 322.4L219.8 323.9ZM315.0 337.6L316.5 337.5L316.2 338.4L319.7 337.0L316.1 335.9L316.5 336.8L315.0 336.8ZM322.3 337.4L323.8 337.3L323.5 338.2L327.0 336.8L323.4 335.7L323.8 336.6L322.2 336.6ZM322.4 345.3L323.9 345.2L323.6 346.1L327.1 344.6L323.5 343.5L323.9 344.4L322.3 344.5Z"/><path fill="#364ea2" d="M289.9 196.1h1.2v1.2h-1.2ZM297.2 195.9h1.2v1.2h-1.2ZM290.0 203.9h1.2v1.2h-1.2ZM319.4 211.1h1.2v1.2h-1.2ZM291.5 282.3h1.2v1.2h-1.2Z"/><path fill="#5a8ac0" d="M321.8 313.9L323.3 313.9L323.0 314.8L326.5 313.4L322.9 312.2L323.3 313.1L321.8 313.1Z"/><path fill="#669ccc" d="M336.4 313.6L338.2 313.5L337.8 314.4L341.4 313.0L337.7 311.8L338.1 312.7L336.3 312.8ZM227.9 323.7L227.9 321.9L228.8 322.3L227.5 318.7L226.2 322.3L227.1 321.9L227.1 323.7ZM322.0 321.7L323.8 321.7L323.4 322.6L327.0 321.2L323.4 320.0L323.7 320.9L321.9 321.0Z"/></g>
<path d="M405.6 108.5 L400 111.2 L392.5 113.1 L386.9 116.2 L382.5 120.6 L379.4 125 L376.2 130 L372.5 135.6 L368.8 141.2 L366.2 146.2 L363.8 152.5 L360.6 160 L358.8 170 L355.6 180 L353.1 187.5 L351.9 190 L348.8 200 L345 212.5 L342.5 218.8 L337.5 225 L334.4 230 L333.8 236.2 L331.9 245 L328.8 250.6 L325 255.6 L320 258.8 L316.9 261.9 L316.2 265 L318.1 267.5 L319.4 272.5 L319.4 275 L321.9 281.2 L321.9 286.2 L320.6 291.2 L323.1 293.5 L327.5 294.4 L331.2 296.9 L335 301.2 L338.1 306.2 L340 312.5 L342.5 318.8 L345 323.8 L346.2 325.6 L347.5 331.2 L348.1 340 L348.5 358 L424 358 L424 238 L420.6 238.8 L420 242.5 L417.5 247.5 L413.1 251.2 L407.5 251 L403.1 247.5 L401.2 242.5 L402.5 240 L403.1 236.2 L402.5 232.5 L401.9 228.8 L402.5 226.2 L404.4 223.1 L406.9 220 L410 216.9 L411.2 213.1 L410.6 209.4 L408.8 207.5 L406.2 208.1 L404.4 211.2 L402.5 214.4 L400 213.1 L400.6 210 L402.5 206.2 L401.9 201.2 L400 195 L398.1 193 L395.6 188.8 L393.8 182.5 L395.6 175 L397.5 167.5 L398.8 155 L400 145 L401.2 141.2 L402.5 135 L403.8 128.8 L405 122.5 L406.9 118.1 L409.4 114.4 L410 111.2 Z" fill="#efefdb" stroke="#7d7d7d" stroke-width="1.45" stroke-linejoin="round"/>
<g fill="none" stroke="#b0b0b0" stroke-width="1.15"><path d="M101.27 38.15L110.67 371.79"/>
<path d="M147.32 37.15L155.98 370.64"/>
<path d="M193.37 36.14L201.29 369.49"/>
<path d="M239.43 35.13L246.61 368.34"/>
<path d="M285.49 34.12L291.94 367.19"/>
<path d="M331.56 33.11L337.26 366.04"/>
<path d="M377.63 32.11L382.60 364.89"/>
<path d="M423.71 31.10L427.94 363.73"/>
<path d="M91.98 352.63L454.92 343.48"/>
<path d="M90.84 313.37L454.47 304.36"/>
<path d="M89.70 274.12L454.03 265.24"/>
<path d="M88.56 234.86L453.58 226.11"/>
<path d="M87.41 195.60L453.14 186.99"/>
<path d="M86.27 156.34L452.69 147.87"/>
<path d="M85.13 117.08L452.25 108.74"/>
<path d="M83.99 77.82L451.80 69.62"/></g>
</g>
<rect x="100.60" y="49.50" width="320.80" height="305.80" fill="none" stroke="#000" stroke-width="1.11"/>
<path d="M247.3 2.6h8.6M337.4 2.6h8.6" stroke="#000" stroke-width="1.35" fill="none"/>
<rect x="441.4" y="125.3" width="8.4" height="153.9" fill="url(#cb)" stroke="#000" stroke-width="1.11"/>
<path d="M450.3 279.20h4.4" stroke="#000" stroke-width="1.11"/>
<path d="M450.3 248.42h4.4" stroke="#000" stroke-width="1.11"/>
<path d="M450.3 217.64h4.4" stroke="#000" stroke-width="1.11"/>
<path d="M450.3 186.86h4.4" stroke="#000" stroke-width="1.11"/>
<path d="M450.3 156.08h4.4" stroke="#000" stroke-width="1.11"/>
<path d="M450.3 125.30h4.4" stroke="#000" stroke-width="1.11"/>
<g style="filter:grayscale(1)"><text x="259.20" y="20.10" font-size="18.20" text-anchor="middle" textLength="193.4" lengthAdjust="spacingAndGlyphs">2026-03-19T19:00:00Z</text><text x="101.30" y="38.50" font-size="14.10" text-anchor="middle" textLength="54.0" lengthAdjust="spacingAndGlyphs">112.5°E</text><text x="193.40" y="38.50" font-size="14.10" text-anchor="middle" textLength="41.6" lengthAdjust="spacingAndGlyphs">113°E</text><text x="285.50" y="38.50" font-size="14.10" text-anchor="middle" textLength="54.0" lengthAdjust="spacingAndGlyphs">113.5°E</text><text x="377.60" y="38.50" font-size="14.10" text-anchor="middle" textLength="41.6" lengthAdjust="spacingAndGlyphs">114°E</text><text x="111.30" y="372.90" font-size="14.10" text-anchor="middle" textLength="54.5" lengthAdjust="spacingAndGlyphs">112.5°E</text><text x="201.50" y="372.90" font-size="14.10" text-anchor="middle" textLength="42.0" lengthAdjust="spacingAndGlyphs">113°E</text><text x="292.30" y="372.90" font-size="14.10" text-anchor="middle" textLength="54.2" lengthAdjust="spacingAndGlyphs">113.5°E</text><text x="382.50" y="372.90" font-size="14.10" text-anchor="middle" textLength="41.2" lengthAdjust="spacingAndGlyphs">114°E</text><text x="92.30" y="81.70" font-size="14.10" text-anchor="end" textLength="45.5" lengthAdjust="spacingAndGlyphs">21.6°S</text><text x="92.30" y="120.98" font-size="14.10" text-anchor="end" textLength="45.5" lengthAdjust="spacingAndGlyphs">21.8°S</text><text x="92.30" y="160.26" font-size="14.10" text-anchor="end" textLength="33.2" lengthAdjust="spacingAndGlyphs">22°S</text><text x="92.30" y="199.54" font-size="14.10" text-anchor="end" textLength="45.5" lengthAdjust="spacingAndGlyphs">22.2°S</text><text x="92.30" y="238.82" font-size="14.10" text-anchor="end" textLength="45.5" lengthAdjust="spacingAndGlyphs">22.4°S</text><text x="92.30" y="278.10" font-size="14.10" text-anchor="end" textLength="45.5" lengthAdjust="spacingAndGlyphs">22.6°S</text><text x="92.30" y="317.38" font-size="14.10" text-anchor="end" textLength="45.5" lengthAdjust="spacingAndGlyphs">22.8°S</text><text x="92.30" y="356.66" font-size="14.10" text-anchor="end" textLength="33.2" lengthAdjust="spacingAndGlyphs">23°S</text><text x="459.30" y="283.95" font-size="14.10" text-anchor="start" textLength="20.0" lengthAdjust="spacingAndGlyphs">0.0</text><text x="459.30" y="253.17" font-size="14.10" text-anchor="start" textLength="20.0" lengthAdjust="spacingAndGlyphs">0.2</text><text x="459.30" y="222.39" font-size="14.10" text-anchor="start" textLength="20.0" lengthAdjust="spacingAndGlyphs">0.4</text><text x="459.30" y="191.61" font-size="14.10" text-anchor="start" textLength="20.0" lengthAdjust="spacingAndGlyphs">0.6</text><text x="459.30" y="160.83" font-size="14.10" text-anchor="start" textLength="20.0" lengthAdjust="spacingAndGlyphs">0.8</text><text x="459.30" y="130.05" font-size="14.10" text-anchor="start" textLength="20.0" lengthAdjust="spacingAndGlyphs">1.0</text><text x="546.20" y="32.50" font-size="14.10" text-anchor="start" textLength="102.8" lengthAdjust="spacingAndGlyphs">Iterations: 200</text><text x="546.20" y="65.00" font-size="14.10" text-anchor="start" textLength="176.6" lengthAdjust="spacingAndGlyphs">nll: -8422.189199511477</text><text x="546.20" y="97.50" font-size="14.10" text-anchor="start" textLength="91.8" lengthAdjust="spacingAndGlyphs">σ = 7.52e-07</text><text x="546.20" y="130.00" font-size="14.10" text-anchor="start" textLength="129.3" lengthAdjust="spacingAndGlyphs">,η_uv1 = 1.41e-01</text><text x="546.20" y="162.50" font-size="14.10" text-anchor="start" textLength="124.3" lengthAdjust="spacingAndGlyphs">η_uv2 = 3.12e-02</text><text x="546.20" y="195.00" font-size="14.10" text-anchor="start" textLength="125.5" lengthAdjust="spacingAndGlyphs">ℓ_uv1 = 31949.82</text><text x="546.20" y="227.50" font-size="14.10" text-anchor="start" textLength="116.8" lengthAdjust="spacingAndGlyphs">ℓ_uv2 = 9398.83</text><text x="546.20" y="260.00" font-size="14.10" text-anchor="start" textLength="107.8" lengthAdjust="spacingAndGlyphs">η_q = 3.52e-05</text><text x="546.20" y="292.50" font-size="14.10" text-anchor="start" textLength="108.5" lengthAdjust="spacingAndGlyphs">ℓ_q = 27157.03</text></g>
</svg></body></html>
